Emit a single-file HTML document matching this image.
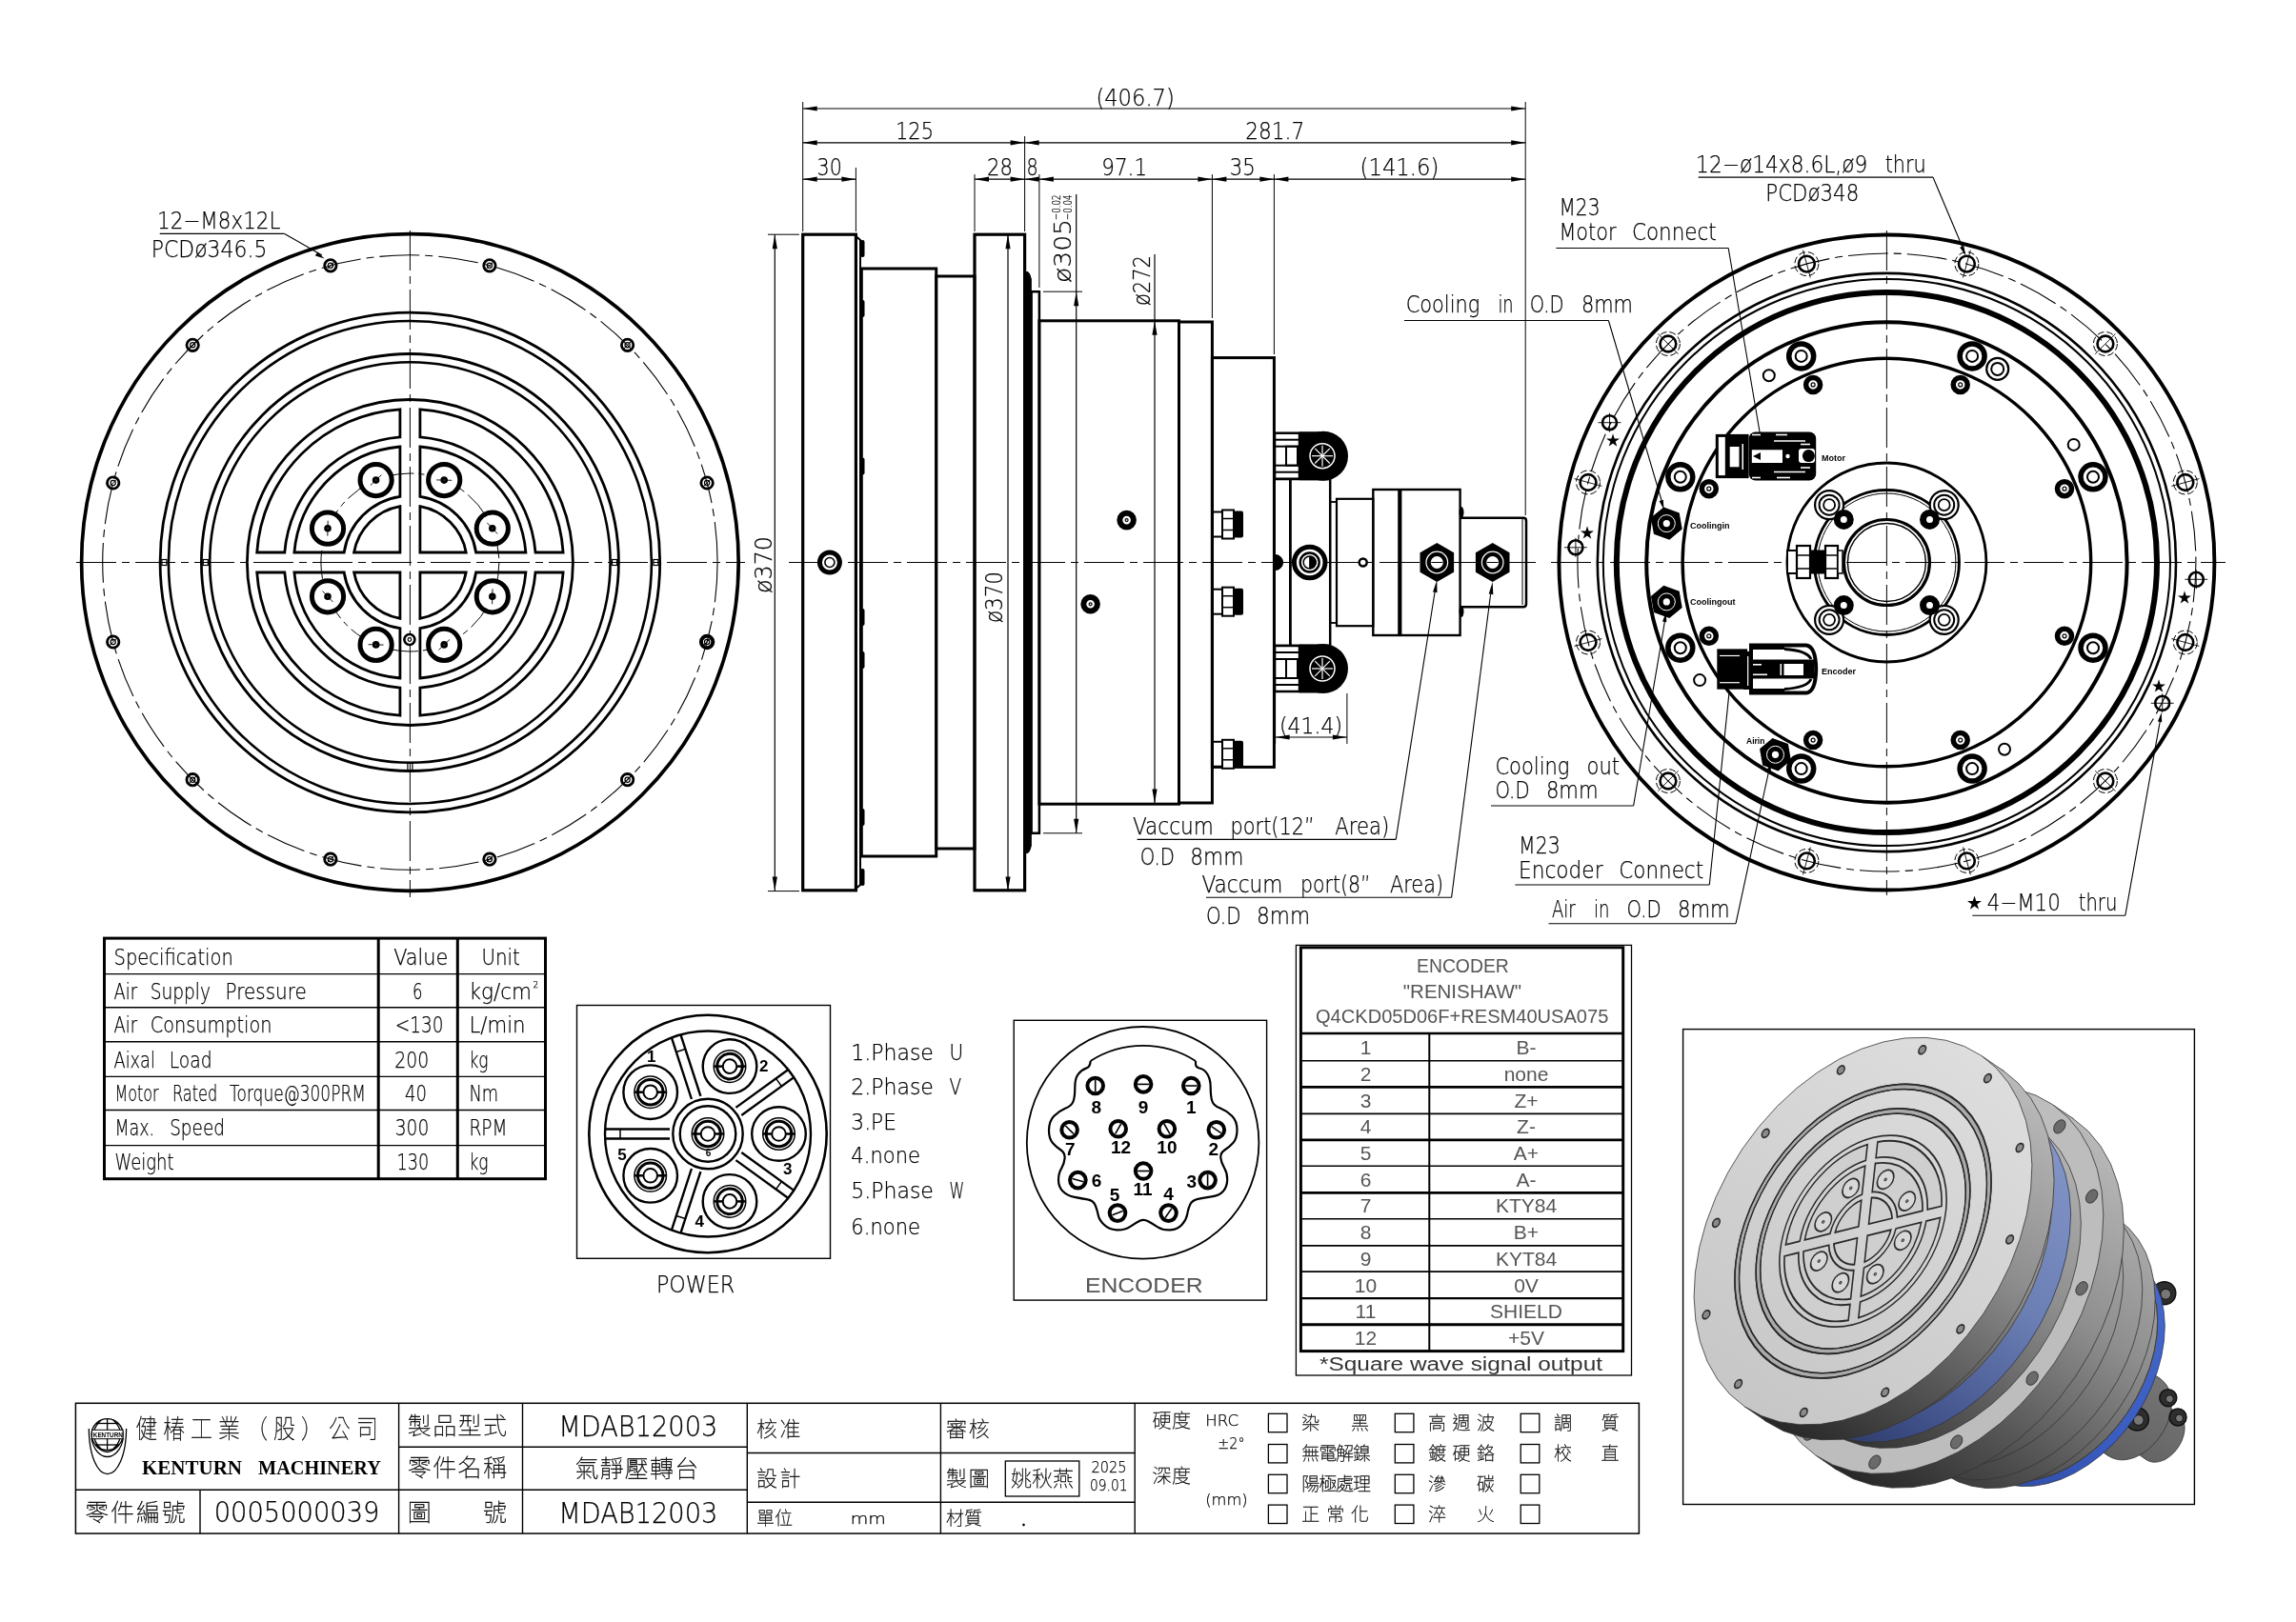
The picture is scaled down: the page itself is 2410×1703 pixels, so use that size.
<!DOCTYPE html>
<html lang="zh-Hant"><head><meta charset="utf-8"><title>MDAB12003</title>
<style>
html,body{margin:0;padding:0;background:#fff}
body{width:2410px;height:1703px;overflow:hidden}
svg{display:block;transform:translateZ(0);will-change:transform}
text{stroke:none;fill:#111}
.c{font-family:"DejaVu Sans","Liberation Sans",sans-serif;font-weight:200;fill:#000;stroke:#000;stroke-width:0.25px}
.k{font-family:"Liberation Sans","Noto Sans CJK TC","Noto Sans CJK SC",sans-serif;font-weight:100;fill:#000;stroke:#000;stroke-width:0.3px}
.b{font-family:"Liberation Sans",sans-serif;font-weight:700;fill:#000}
.s{font-family:"Liberation Serif",serif;font-weight:700;fill:#000}
.g{font-family:"Liberation Sans",sans-serif;fill:#555}
.f{fill:#000;stroke:none}
.w{fill:#fff;stroke:none}
</style></head><body>
<svg width="2410" height="1703" viewBox="0 0 2410 1703" fill="none" stroke="#000">
<rect class="w" x="0" y="0" width="2410" height="1703"/>
<g id="leftview">
<circle cx="430.4" cy="590.5" r="344.8" stroke-width="3.7"/>
<circle cx="430.4" cy="590.5" r="322.7" stroke-width="1.1" stroke-dasharray="42 6 8 6"/>
<circle cx="430.4" cy="590.5" r="262.3" stroke-width="2.8"/>
<circle cx="430.4" cy="590.5" r="253.5" stroke-width="2.6"/>
<circle cx="430.4" cy="590.5" r="219.0" stroke-width="2.8"/>
<circle cx="430.4" cy="590.5" r="210.2" stroke-width="2.6"/>
<circle cx="430.4" cy="590.5" r="171.0" stroke-width="2.8"/>
<line x1="80.0" y1="590.5" x2="782.0" y2="590.5" stroke-width="1" stroke-dasharray="42 6 8 6"/>
<line x1="430.4" y1="242.0" x2="430.4" y2="942.0" stroke-width="1" stroke-dasharray="42 6 8 6"/>
<rect x="169.9" y="587.5" width="5.0" height="6.0" stroke-width="1.2"/>
<rect x="213.3" y="587.5" width="5.0" height="6.0" stroke-width="1.2"/>
<rect x="642.5" y="587.5" width="5.0" height="6.0" stroke-width="1.2"/>
<rect x="685.9" y="587.5" width="5.0" height="6.0" stroke-width="1.2"/>
<rect x="427.9" y="800.5" width="5.0" height="8.0" stroke-width="1.2"/>
<circle cx="513.9" cy="278.8" r="6.2" stroke-width="2.8"/>
<circle cx="513.9" cy="278.8" r="2.6" stroke-width="1.2"/>
<line x1="509.9" y1="282.8" x2="517.9" y2="274.8" stroke-width="1"/>
<circle cx="658.6" cy="362.3" r="6.2" stroke-width="2.8"/>
<circle cx="658.6" cy="362.3" r="2.6" stroke-width="1.2"/>
<line x1="654.6" y1="366.3" x2="662.6" y2="358.3" stroke-width="1"/>
<circle cx="742.1" cy="507.0" r="6.2" stroke-width="2.8"/>
<circle cx="742.1" cy="507.0" r="2.6" stroke-width="1.2"/>
<line x1="738.1" y1="511.0" x2="746.1" y2="503.0" stroke-width="1"/>
<circle cx="742.1" cy="674.0" r="6.2" stroke-width="4"/>
<circle cx="742.1" cy="674.0" r="2.6" stroke-width="1.2"/>
<line x1="738.1" y1="678.0" x2="746.1" y2="670.0" stroke-width="1"/>
<circle cx="658.6" cy="818.7" r="6.2" stroke-width="2.8"/>
<circle cx="658.6" cy="818.7" r="2.6" stroke-width="1.2"/>
<line x1="654.6" y1="822.7" x2="662.6" y2="814.7" stroke-width="1"/>
<circle cx="513.9" cy="902.2" r="6.2" stroke-width="2.8"/>
<circle cx="513.9" cy="902.2" r="2.6" stroke-width="1.2"/>
<line x1="509.9" y1="906.2" x2="517.9" y2="898.2" stroke-width="1"/>
<circle cx="346.9" cy="902.2" r="6.2" stroke-width="2.8"/>
<circle cx="346.9" cy="902.2" r="2.6" stroke-width="1.2"/>
<line x1="342.9" y1="906.2" x2="350.9" y2="898.2" stroke-width="1"/>
<circle cx="202.2" cy="818.7" r="6.2" stroke-width="2.8"/>
<circle cx="202.2" cy="818.7" r="2.6" stroke-width="1.2"/>
<line x1="198.2" y1="822.7" x2="206.2" y2="814.7" stroke-width="1"/>
<circle cx="118.7" cy="674.0" r="6.2" stroke-width="2.8"/>
<circle cx="118.7" cy="674.0" r="2.6" stroke-width="1.2"/>
<line x1="114.7" y1="678.0" x2="122.7" y2="670.0" stroke-width="1"/>
<circle cx="118.7" cy="507.0" r="6.2" stroke-width="2.8"/>
<circle cx="118.7" cy="507.0" r="2.6" stroke-width="1.2"/>
<line x1="114.7" y1="511.0" x2="122.7" y2="503.0" stroke-width="1"/>
<circle cx="202.2" cy="362.3" r="6.2" stroke-width="2.8"/>
<circle cx="202.2" cy="362.3" r="2.6" stroke-width="1.2"/>
<line x1="198.2" y1="366.3" x2="206.2" y2="358.3" stroke-width="1"/>
<circle cx="346.9" cy="278.8" r="6.2" stroke-width="2.8"/>
<circle cx="346.9" cy="278.8" r="2.6" stroke-width="1.2"/>
<line x1="342.9" y1="282.8" x2="350.9" y2="274.8" stroke-width="1"/>
<path d="M591.1,601.0 A161,161 0 0 1 440.9,751.2 L440.9,722.1 A132,132 0 0 0 562.0,601.0 Z" stroke-width="2.8"/>
<path d="M551.9,601.0 A122,122 0 0 1 440.9,712.0 L440.9,659.7 A70,70 0 0 0 499.6,601.0 Z" stroke-width="2.8"/>
<path d="M489.2,601.0 A59.7,59.7 0 0 1 440.9,649.3 L440.9,601.0 Z" stroke-width="2.8"/>
<path d="M591.1,580.0 A161,161 0 0 0 440.9,429.8 L440.9,458.9 A132,132 0 0 1 562.0,580.0 Z" stroke-width="2.8"/>
<path d="M551.9,580.0 A122,122 0 0 0 440.9,469.0 L440.9,521.3 A70,70 0 0 1 499.6,580.0 Z" stroke-width="2.8"/>
<path d="M489.2,580.0 A59.7,59.7 0 0 0 440.9,531.7 L440.9,580.0 Z" stroke-width="2.8"/>
<path d="M269.7,601.0 A161,161 0 0 0 419.9,751.2 L419.9,722.1 A132,132 0 0 1 298.8,601.0 Z" stroke-width="2.8"/>
<path d="M308.9,601.0 A122,122 0 0 0 419.9,712.0 L419.9,659.7 A70,70 0 0 1 361.2,601.0 Z" stroke-width="2.8"/>
<path d="M371.6,601.0 A59.7,59.7 0 0 0 419.9,649.3 L419.9,601.0 Z" stroke-width="2.8"/>
<path d="M269.7,580.0 A161,161 0 0 1 419.9,429.8 L419.9,458.9 A132,132 0 0 0 298.8,580.0 Z" stroke-width="2.8"/>
<path d="M308.9,580.0 A122,122 0 0 1 419.9,469.0 L419.9,521.3 A70,70 0 0 0 361.2,580.0 Z" stroke-width="2.8"/>
<path d="M371.6,580.0 A59.7,59.7 0 0 1 419.9,531.7 L419.9,580.0 Z" stroke-width="2.8"/>
<circle cx="430.4" cy="590.5" r="93.5" stroke-width="1" stroke-dasharray="30 5 6 5"/>
<circle cx="516.8" cy="626.3" r="16.6" stroke-width="5" fill="#fff"/>
<circle cx="516.8" cy="626.3" r="2.2" stroke-width="3.2"/>
<line x1="517.0" y1="618.3" x2="516.6" y2="634.3" stroke-width="0.9"/>
<circle cx="466.2" cy="676.9" r="16.6" stroke-width="5" fill="#fff"/>
<circle cx="466.2" cy="676.9" r="2.2" stroke-width="3.2"/>
<line x1="472.0" y1="671.4" x2="460.4" y2="682.4" stroke-width="0.9"/>
<circle cx="394.6" cy="676.9" r="16.6" stroke-width="5" fill="#fff"/>
<circle cx="394.6" cy="676.9" r="2.2" stroke-width="3.2"/>
<line x1="402.6" y1="677.1" x2="386.6" y2="676.7" stroke-width="0.9"/>
<circle cx="344.0" cy="626.3" r="16.6" stroke-width="5" fill="#fff"/>
<circle cx="344.0" cy="626.3" r="2.2" stroke-width="3.2"/>
<line x1="349.5" y1="632.1" x2="338.5" y2="620.5" stroke-width="0.9"/>
<circle cx="344.0" cy="554.7" r="16.6" stroke-width="5" fill="#fff"/>
<circle cx="344.0" cy="554.7" r="2.2" stroke-width="3.2"/>
<line x1="343.8" y1="562.7" x2="344.2" y2="546.7" stroke-width="0.9"/>
<circle cx="394.6" cy="504.1" r="16.6" stroke-width="5" fill="#fff"/>
<circle cx="394.6" cy="504.1" r="2.2" stroke-width="3.2"/>
<line x1="388.8" y1="509.6" x2="400.4" y2="498.6" stroke-width="0.9"/>
<circle cx="466.2" cy="504.1" r="16.6" stroke-width="5" fill="#fff"/>
<circle cx="466.2" cy="504.1" r="2.2" stroke-width="3.2"/>
<line x1="458.2" y1="503.9" x2="474.2" y2="504.3" stroke-width="0.9"/>
<circle cx="516.8" cy="554.7" r="16.6" stroke-width="5" fill="#fff"/>
<circle cx="516.8" cy="554.7" r="2.2" stroke-width="3.2"/>
<line x1="511.3" y1="548.9" x2="522.3" y2="560.5" stroke-width="0.9"/>
<circle cx="429.9" cy="671.5" r="5.5" stroke-width="2.6" fill="#fff"/>
<circle cx="429.9" cy="671.5" r="1.8" stroke-width="1.2"/>
<text class="c" x="165.0" y="240.0" font-size="24.0" textLength="129.5" lengthAdjust="spacingAndGlyphs">12−M8x12L</text>
<line x1="167.7" y1="245.4" x2="298.7" y2="245.4" stroke-width="1.1"/>
<line x1="298.7" y1="245.4" x2="338.0" y2="268.0" stroke-width="1.1"/>
<polygon points="340.7,271.6 330.9,268.5 333.1,264.7" fill="#000" stroke="none"/>
<text class="c" x="158.8" y="269.5" font-size="24.0" textLength="121.6" lengthAdjust="spacingAndGlyphs">PCDø346.5</text>
</g>
<g id="sideview">
<line x1="828.0" y1="590.5" x2="1612.0" y2="590.5" stroke-width="1" stroke-dasharray="42 6 8 6"/>
<rect x="842.7" y="246.2" width="55.7" height="688.6" stroke-width="3.2"/>
<path d="M898.4,248 L903,252 L903,929.0 L898.4,933.0" stroke-width="2"/>
<rect x="904.3" y="282.0" width="78.4" height="617.0" stroke-width="3"/>
<rect x="982.7" y="290.0" width="40.3" height="601.0" stroke-width="3"/>
<rect x="1023.0" y="246.2" width="52.6" height="688.6" stroke-width="3.2"/>
<path d="M1076.5,286 Q1080,283 1082.3,293 L1082.3,888.0 Q1080,898.0 1076.5,895.0 Z" stroke-width="1" fill="#000"/>
<rect x="1082.6" y="306.2" width="8.3" height="568.6" stroke-width="2.5"/>
<rect x="1090.9" y="336.8" width="146.6" height="507.4" stroke-width="3"/>
<rect x="1237.5" y="338.0" width="34.9" height="505.0" stroke-width="3"/>
<rect x="1272.4" y="375.6" width="65.0" height="429.8" stroke-width="3"/>
<rect x="1337.4" y="503.0" width="16.9" height="175.0" stroke-width="2.5"/>
<rect x="1354.3" y="503.0" width="41.9" height="175.0" stroke-width="2.5"/>
<rect x="1396.2" y="527.0" width="6.8" height="127.0" stroke-width="1.8"/>
<rect x="1403.0" y="523.8" width="38.3" height="133.4" stroke-width="2.2"/>
<rect x="1441.3" y="514.0" width="91.3" height="153.0" stroke-width="2.4"/>
<line x1="1469.3" y1="514.0" x2="1469.3" y2="667.0" stroke-width="4.2"/>
<path d="M1532.6,543.8 L1599,543.8 Q1602,543.8 1602,547 L1602,634.0 Q1602,637.2 1599,637.2 L1532.6,637.2" stroke-width="2.5"/>
<line x1="1598.0" y1="545.0" x2="1598.0" y2="635.0" stroke-width="1"/>
<ellipse class="f" cx="1534" cy="538" rx="2.5" ry="6"/>
<ellipse class="f" cx="1534" cy="642" rx="2.5" ry="6"/>
<rect class="f" x="903" y="252" width="4.5" height="18" rx="2"/>
<rect class="f" x="903" y="315" width="4.5" height="18" rx="2"/>
<rect class="f" x="903" y="480.5" width="4.5" height="18" rx="2"/>
<rect class="f" x="903" y="639" width="4.5" height="18" rx="2"/>
<rect class="f" x="903" y="684" width="4.5" height="18" rx="2"/>
<rect class="f" x="903" y="849" width="4.5" height="18" rx="2"/>
<rect class="f" x="903" y="912" width="4.5" height="18" rx="2"/>
<circle cx="870.9" cy="590.5" r="10.5" stroke-width="5" fill="#fff"/>
<circle cx="870.9" cy="590.5" r="5.0" stroke-width="1.6"/>
<circle cx="1182.6" cy="546.1" r="7.3" stroke-width="6" fill="#fff"/>
<circle cx="1182.6" cy="546.1" r="1.5" stroke-width="1.2"/>
<circle cx="1144.6" cy="634.3" r="7.3" stroke-width="6" fill="#fff"/>
<circle cx="1144.6" cy="634.3" r="1.5" stroke-width="1.2"/>
<rect x="1273.0" y="537.5" width="10.0" height="26.0" stroke-width="2"/>
<rect x="1283.0" y="535.5" width="12.0" height="30.0" stroke-width="2" fill="#fff"/>
<line x1="1283.0" y1="544.5" x2="1295.0" y2="544.5" stroke-width="1.5"/>
<line x1="1283.0" y1="556.5" x2="1295.0" y2="556.5" stroke-width="1.5"/>
<rect class="f" x="1295" y="536.5" width="10" height="28" rx="2"/>
<rect x="1273.0" y="618.7" width="10.0" height="26.0" stroke-width="2"/>
<rect x="1283.0" y="616.7" width="12.0" height="30.0" stroke-width="2" fill="#fff"/>
<line x1="1283.0" y1="625.7" x2="1295.0" y2="625.7" stroke-width="1.5"/>
<line x1="1283.0" y1="637.7" x2="1295.0" y2="637.7" stroke-width="1.5"/>
<rect class="f" x="1295" y="617.7" width="10" height="28" rx="2"/>
<rect x="1273.0" y="778.8" width="10.0" height="26.0" stroke-width="2"/>
<rect x="1283.0" y="776.8" width="12.0" height="30.0" stroke-width="2" fill="#fff"/>
<line x1="1283.0" y1="785.8" x2="1295.0" y2="785.8" stroke-width="1.5"/>
<line x1="1283.0" y1="797.8" x2="1295.0" y2="797.8" stroke-width="1.5"/>
<rect class="f" x="1295" y="777.8" width="10" height="28" rx="2"/>
<rect x="1338.0" y="454.7" width="26.0" height="48.0" stroke-width="2.5" fill="#fff"/>
<line x1="1338.0" y1="461.7" x2="1364.0" y2="461.7" stroke-width="2"/>
<line x1="1338.0" y1="468.7" x2="1364.0" y2="468.7" stroke-width="2"/>
<line x1="1338.0" y1="488.7" x2="1364.0" y2="488.7" stroke-width="2"/>
<line x1="1338.0" y1="495.7" x2="1364.0" y2="495.7" stroke-width="2"/>
<rect x="1350.0" y="468.7" width="12.0" height="20.0" stroke-width="2"/>
<circle class="f" cx="1389" cy="478.7" r="26"/>
<rect class="f" x="1364" y="453.2" width="25" height="51"/>
<circle cx="1388.0" cy="478.7" r="13.0" stroke-width="1.5" stroke="#fff"/>
<line x1="1377.0" y1="478.7" x2="1399.0" y2="478.7" stroke-width="1.2" stroke="#fff"/>
<line x1="1380.2" y1="470.9" x2="1395.8" y2="486.5" stroke-width="1.2" stroke="#fff"/>
<line x1="1388.0" y1="467.7" x2="1388.0" y2="489.7" stroke-width="1.2" stroke="#fff"/>
<line x1="1395.8" y1="470.9" x2="1380.2" y2="486.5" stroke-width="1.2" stroke="#fff"/>
<rect x="1338.0" y="678.0" width="26.0" height="48.0" stroke-width="2.5" fill="#fff"/>
<line x1="1338.0" y1="685.0" x2="1364.0" y2="685.0" stroke-width="2"/>
<line x1="1338.0" y1="692.0" x2="1364.0" y2="692.0" stroke-width="2"/>
<line x1="1338.0" y1="712.0" x2="1364.0" y2="712.0" stroke-width="2"/>
<line x1="1338.0" y1="719.0" x2="1364.0" y2="719.0" stroke-width="2"/>
<rect x="1350.0" y="692.0" width="12.0" height="20.0" stroke-width="2"/>
<circle class="f" cx="1389" cy="702" r="26"/>
<rect class="f" x="1364" y="676.5" width="25" height="51"/>
<circle cx="1388.0" cy="702.0" r="13.0" stroke-width="1.5" stroke="#fff"/>
<line x1="1377.0" y1="702.0" x2="1399.0" y2="702.0" stroke-width="1.2" stroke="#fff"/>
<line x1="1380.2" y1="694.2" x2="1395.8" y2="709.8" stroke-width="1.2" stroke="#fff"/>
<line x1="1388.0" y1="691.0" x2="1388.0" y2="713.0" stroke-width="1.2" stroke="#fff"/>
<line x1="1395.8" y1="694.2" x2="1380.2" y2="709.8" stroke-width="1.2" stroke="#fff"/>
<circle cx="1374.7" cy="590.5" r="16.3" stroke-width="5" fill="#fff"/>
<circle cx="1374.7" cy="590.5" r="10.0" stroke-width="2.4"/>
<circle cx="1374.7" cy="590.5" r="6.5" stroke-width="1.5"/>
<path d="M1374.7,584.0 A6.5,6.5 0 0 1 1374.7,597.0 Z" stroke-width="1" fill="#000"/>
<circle cx="1430.7" cy="590.5" r="4.0" stroke-width="2.5"/>
<path d="M1338.6,582.5 A8,8 0 0 1 1338.6,598.5 Z" stroke-width="1" fill="#000"/>
<polygon class="f" points="1508.3,611.0 1490.5,600.8 1490.5,580.2 1508.3,570.0 1526.1,580.2 1526.1,600.8"/>
<circle cx="1508.3" cy="590.5" r="11.3" stroke-width="1.2" stroke="#fff"/>
<circle class="w" cx="1508.3" cy="590.5" r="6.5"/>
<line x1="1502.3" y1="590.5" x2="1514.3" y2="590.5" stroke-width="1"/>
<polygon class="f" points="1566.7,611.0 1548.9,600.8 1548.9,580.2 1566.7,570.0 1584.5,580.2 1584.5,600.8"/>
<circle cx="1566.7" cy="590.5" r="11.3" stroke-width="1.2" stroke="#fff"/>
<circle class="w" cx="1566.7" cy="590.5" r="6.5"/>
<line x1="1560.7" y1="590.5" x2="1572.7" y2="590.5" stroke-width="1"/>
<line x1="1506.0" y1="622.0" x2="1465.2" y2="881.4" stroke-width="1.1"/>
<polygon points="1508.3,609.0 1508.5,622.2 1504.0,621.5" fill="#000" stroke="none"/>
<line x1="1564.6" y1="624.0" x2="1523.6" y2="942.2" stroke-width="1.1"/>
<polygon points="1566.7,611.0 1567.3,624.2 1562.7,623.6" fill="#000" stroke="none"/>
<line x1="842.7" y1="107.0" x2="842.7" y2="243.0" stroke-width="1"/>
<line x1="898.4" y1="176.0" x2="898.4" y2="243.0" stroke-width="1"/>
<line x1="1023.0" y1="183.0" x2="1023.0" y2="243.0" stroke-width="1"/>
<line x1="1075.6" y1="143.0" x2="1075.6" y2="243.0" stroke-width="1"/>
<line x1="1090.9" y1="183.0" x2="1090.9" y2="302.0" stroke-width="1"/>
<line x1="1272.4" y1="183.0" x2="1272.4" y2="334.0" stroke-width="1"/>
<line x1="1337.4" y1="183.0" x2="1337.4" y2="372.0" stroke-width="1"/>
<line x1="1601.2" y1="107.0" x2="1601.2" y2="541.0" stroke-width="1"/>
<line x1="842.7" y1="114.0" x2="1601.2" y2="114.0" stroke-width="1.2"/>
<polygon points="842.7,114.0 857.7,111.4 857.7,116.6" fill="#000" stroke="none"/>
<polygon points="1601.2,114.0 1586.2,116.6 1586.2,111.4" fill="#000" stroke="none"/>
<text class="c" x="1150.4" y="111.0" font-size="25.2" textLength="82.4" lengthAdjust="spacingAndGlyphs">(406.7)</text>
<line x1="842.7" y1="149.8" x2="1601.2" y2="149.8" stroke-width="1.2"/>
<polygon points="842.7,149.8 857.7,147.2 857.7,152.4" fill="#000" stroke="none"/>
<polygon points="1075.6,149.8 1060.6,152.4 1060.6,147.2" fill="#000" stroke="none"/>
<polygon points="1075.6,149.8 1090.6,147.2 1090.6,152.4" fill="#000" stroke="none"/>
<polygon points="1601.2,149.8 1586.2,152.4 1586.2,147.2" fill="#000" stroke="none"/>
<text class="c" x="940.0" y="145.5" font-size="25.2" textLength="40.0" lengthAdjust="spacingAndGlyphs">125</text>
<text class="c" x="1307.2" y="145.5" font-size="25.2" textLength="62.0" lengthAdjust="spacingAndGlyphs">281.7</text>
<line x1="842.7" y1="188.2" x2="898.4" y2="188.2" stroke-width="1.2"/>
<polygon points="842.7,188.2 857.7,185.6 857.7,190.8" fill="#000" stroke="none"/>
<polygon points="898.4,188.2 883.4,190.8 883.4,185.6" fill="#000" stroke="none"/>
<line x1="1023.0" y1="188.2" x2="1601.2" y2="188.2" stroke-width="1.2"/>
<polygon points="1023.0,188.2 1038.0,185.6 1038.0,190.8" fill="#000" stroke="none"/>
<polygon points="1075.6,188.2 1060.6,190.8 1060.6,185.6" fill="#000" stroke="none"/>
<polygon points="1075.6,188.2 1090.6,185.6 1090.6,190.8" fill="#000" stroke="none"/>
<polygon points="1090.9,188.2 1105.9,185.6 1105.9,190.8" fill="#000" stroke="none"/>
<polygon points="1272.4,188.2 1257.4,190.8 1257.4,185.6" fill="#000" stroke="none"/>
<polygon points="1272.4,188.2 1287.4,185.6 1287.4,190.8" fill="#000" stroke="none"/>
<polygon points="1337.4,188.2 1322.4,190.8 1322.4,185.6" fill="#000" stroke="none"/>
<polygon points="1337.4,188.2 1352.4,185.6 1352.4,190.8" fill="#000" stroke="none"/>
<polygon points="1601.2,188.2 1586.2,190.8 1586.2,185.6" fill="#000" stroke="none"/>
<text class="c" x="857.6" y="183.5" font-size="25.2" textLength="26.3" lengthAdjust="spacingAndGlyphs">30</text>
<text class="c" x="1036.0" y="183.5" font-size="25.2" textLength="27.0" lengthAdjust="spacingAndGlyphs">28</text>
<text class="c" x="1077.5" y="183.5" font-size="25.2" textLength="12.2" lengthAdjust="spacingAndGlyphs">8</text>
<text class="c" x="1156.3" y="183.5" font-size="25.2" textLength="47.8" lengthAdjust="spacingAndGlyphs">97.1</text>
<text class="c" x="1290.8" y="183.5" font-size="25.2" textLength="27.0" lengthAdjust="spacingAndGlyphs">35</text>
<text class="c" x="1427.6" y="183.5" font-size="25.2" textLength="82.7" lengthAdjust="spacingAndGlyphs">(141.6)</text>
<line x1="806.0" y1="246.2" x2="839.0" y2="246.2" stroke-width="1"/>
<line x1="806.0" y1="935.6" x2="839.0" y2="935.6" stroke-width="1"/>
<line x1="813.3" y1="246.2" x2="813.3" y2="935.6" stroke-width="1.2"/>
<polygon points="813.3,246.2 815.9,261.2 810.7,261.2" fill="#000" stroke="none"/>
<polygon points="813.3,935.6 810.7,920.6 815.9,920.6" fill="#000" stroke="none"/>
<text class="c" transform="translate(809.5,623.0) rotate(-90)" x="0" y="0" font-size="24.7" textLength="60.0" lengthAdjust="spacingAndGlyphs">ø370</text>
<line x1="1058.0" y1="246.2" x2="1058.0" y2="935.6" stroke-width="1.2"/>
<polygon points="1058.0,246.2 1060.6,261.2 1055.4,261.2" fill="#000" stroke="none"/>
<polygon points="1058.0,935.6 1055.4,920.6 1060.6,920.6" fill="#000" stroke="none"/>
<text class="c" transform="translate(1052.0,654.0) rotate(-90)" x="0" y="0" font-size="24.7" textLength="54.0" lengthAdjust="spacingAndGlyphs">ø370</text>
<line x1="1095.0" y1="306.2" x2="1136.0" y2="306.2" stroke-width="1"/>
<line x1="1095.0" y1="874.8" x2="1136.0" y2="874.8" stroke-width="1"/>
<line x1="1129.7" y1="204.0" x2="1129.7" y2="874.8" stroke-width="1.2"/>
<polygon points="1129.7,306.2 1132.3,321.2 1127.1,321.2" fill="#000" stroke="none"/>
<polygon points="1129.7,874.8 1127.1,859.8 1132.3,859.8" fill="#000" stroke="none"/>
<text class="c" transform="translate(1124.0,297.0) rotate(-90)" x="0" y="0" font-size="24.7" textLength="67.0" lengthAdjust="spacingAndGlyphs">ø305</text>
<text class="c" transform="translate(1112.5,231.0) rotate(-90)" x="0" y="0" font-size="13.0" textLength="26.5" lengthAdjust="spacingAndGlyphs">−0.02</text>
<text class="c" transform="translate(1125.0,231.0) rotate(-90)" x="0" y="0" font-size="13.0" textLength="26.5" lengthAdjust="spacingAndGlyphs">−0.04</text>
<line x1="1212.0" y1="267.0" x2="1212.0" y2="844.0" stroke-width="1.2"/>
<polygon points="1212.0,336.8 1214.6,351.8 1209.4,351.8" fill="#000" stroke="none"/>
<polygon points="1212.0,843.4 1209.4,828.4 1214.6,828.4" fill="#000" stroke="none"/>
<text class="c" transform="translate(1207.0,321.0) rotate(-90)" x="0" y="0" font-size="24.7" textLength="53.0" lengthAdjust="spacingAndGlyphs">ø272</text>
<line x1="1338.6" y1="680.0" x2="1338.6" y2="781.0" stroke-width="1"/>
<line x1="1413.9" y1="728.0" x2="1413.9" y2="781.0" stroke-width="1"/>
<line x1="1338.6" y1="774.0" x2="1413.9" y2="774.0" stroke-width="1.2"/>
<polygon points="1338.6,774.0 1353.6,771.4 1353.6,776.6" fill="#000" stroke="none"/>
<polygon points="1413.9,774.0 1398.9,776.6 1398.9,771.4" fill="#000" stroke="none"/>
<text class="c" x="1343.0" y="770.0" font-size="23.3" textLength="66.0" lengthAdjust="spacingAndGlyphs">(41.4)</text>
<text class="c" x="1188.9" y="875.5" font-size="24.0" textLength="85.0" lengthAdjust="spacingAndGlyphs">Vaccum</text>
<text class="c" x="1291.6" y="875.5" font-size="24.0" textLength="88.2" lengthAdjust="spacingAndGlyphs">port(12”</text>
<text class="c" x="1401.3" y="875.5" font-size="24.0" textLength="56.9" lengthAdjust="spacingAndGlyphs">Area)</text>
<line x1="1193.6" y1="881.4" x2="1465.2" y2="881.4" stroke-width="1.1"/>
<text class="c" x="1196.7" y="908.0" font-size="24.0" textLength="36.1" lengthAdjust="spacingAndGlyphs">O.D</text>
<text class="c" x="1249.2" y="908.0" font-size="24.0" textLength="56.1" lengthAdjust="spacingAndGlyphs">8mm</text>
<text class="c" x="1261.4" y="937.0" font-size="24.0" textLength="85.0" lengthAdjust="spacingAndGlyphs">Vaccum</text>
<text class="c" x="1364.9" y="937.0" font-size="24.0" textLength="73.7" lengthAdjust="spacingAndGlyphs">port(8”</text>
<text class="c" x="1459.0" y="937.0" font-size="24.0" textLength="56.0" lengthAdjust="spacingAndGlyphs">Area)</text>
<line x1="1266.0" y1="942.2" x2="1523.6" y2="942.2" stroke-width="1.1"/>
<text class="c" x="1266.0" y="970.4" font-size="24.0" textLength="36.5" lengthAdjust="spacingAndGlyphs">O.D</text>
<text class="c" x="1319.0" y="970.4" font-size="24.0" textLength="56.0" lengthAdjust="spacingAndGlyphs">8mm</text>
</g>
<g id="rightview">
<circle cx="1980.4" cy="590.5" r="344.0" stroke-width="3.9"/>
<circle cx="1980.4" cy="590.5" r="324.5" stroke-width="1.1" stroke-dasharray="42 6 8 6"/>
<circle cx="1980.4" cy="590.5" r="303.6" stroke-width="2.6"/>
<circle cx="1980.4" cy="590.5" r="297.6" stroke-width="2"/>
<circle cx="1980.4" cy="590.5" r="283.6" stroke-width="6"/>
<circle cx="1980.4" cy="590.5" r="252.2" stroke-width="4"/>
<circle cx="1980.4" cy="590.5" r="214.3" stroke-width="3.4"/>
<circle cx="1980.4" cy="590.5" r="104.5" stroke-width="2.8"/>
<circle cx="1980.4" cy="590.5" r="76.0" stroke-width="3"/>
<circle cx="1980.4" cy="590.5" r="72.5" stroke-width="1"/>
<circle cx="1980.4" cy="590.5" r="45.0" stroke-width="3.2"/>
<circle cx="1980.4" cy="590.5" r="41.0" stroke-width="1.4"/>
<line x1="1628.0" y1="590.5" x2="2336.0" y2="590.5" stroke-width="1" stroke-dasharray="42 6 8 6"/>
<line x1="1980.4" y1="242.0" x2="1980.4" y2="940.0" stroke-width="1" stroke-dasharray="42 6 8 6"/>
<circle cx="2064.4" cy="277.1" r="8.4" stroke-width="2.6"/>
<circle cx="2064.4" cy="277.1" r="12.5" stroke-width="1" stroke-dasharray="7 3"/>
<line x1="2060.5" y1="291.5" x2="2068.3" y2="262.6" stroke-width="0.9"/>
<circle cx="2209.9" cy="361.0" r="8.4" stroke-width="2.6"/>
<circle cx="2209.9" cy="361.0" r="12.5" stroke-width="1" stroke-dasharray="7 3"/>
<line x1="2199.2" y1="371.7" x2="2220.5" y2="350.4" stroke-width="0.9"/>
<circle cx="2293.8" cy="506.5" r="8.4" stroke-width="2.6"/>
<circle cx="2293.8" cy="506.5" r="12.5" stroke-width="1" stroke-dasharray="7 3"/>
<line x1="2279.4" y1="510.4" x2="2308.3" y2="502.6" stroke-width="0.9"/>
<circle cx="2293.8" cy="674.5" r="8.4" stroke-width="2.6"/>
<circle cx="2293.8" cy="674.5" r="12.5" stroke-width="1" stroke-dasharray="7 3"/>
<line x1="2279.4" y1="670.6" x2="2308.3" y2="678.4" stroke-width="0.9"/>
<circle cx="2209.9" cy="820.0" r="8.4" stroke-width="2.6"/>
<circle cx="2209.9" cy="820.0" r="12.5" stroke-width="1" stroke-dasharray="7 3"/>
<line x1="2199.2" y1="809.3" x2="2220.5" y2="830.6" stroke-width="0.9"/>
<circle cx="2064.4" cy="903.9" r="8.4" stroke-width="2.6"/>
<circle cx="2064.4" cy="903.9" r="12.5" stroke-width="1" stroke-dasharray="7 3"/>
<line x1="2060.5" y1="889.5" x2="2068.3" y2="918.4" stroke-width="0.9"/>
<circle cx="1896.4" cy="903.9" r="8.4" stroke-width="2.6"/>
<circle cx="1896.4" cy="903.9" r="12.5" stroke-width="1" stroke-dasharray="7 3"/>
<line x1="1900.3" y1="889.5" x2="1892.5" y2="918.4" stroke-width="0.9"/>
<circle cx="1750.9" cy="820.0" r="8.4" stroke-width="2.6"/>
<circle cx="1750.9" cy="820.0" r="12.5" stroke-width="1" stroke-dasharray="7 3"/>
<line x1="1761.6" y1="809.3" x2="1740.3" y2="830.6" stroke-width="0.9"/>
<circle cx="1667.0" cy="674.5" r="8.4" stroke-width="2.6"/>
<circle cx="1667.0" cy="674.5" r="12.5" stroke-width="1" stroke-dasharray="7 3"/>
<line x1="1681.4" y1="670.6" x2="1652.5" y2="678.4" stroke-width="0.9"/>
<circle cx="1667.0" cy="506.5" r="8.4" stroke-width="2.6"/>
<circle cx="1667.0" cy="506.5" r="12.5" stroke-width="1" stroke-dasharray="7 3"/>
<line x1="1681.4" y1="510.4" x2="1652.5" y2="502.6" stroke-width="0.9"/>
<circle cx="1750.9" cy="361.0" r="8.4" stroke-width="2.6"/>
<circle cx="1750.9" cy="361.0" r="12.5" stroke-width="1" stroke-dasharray="7 3"/>
<line x1="1761.6" y1="371.7" x2="1740.3" y2="350.4" stroke-width="0.9"/>
<circle cx="1896.4" cy="277.1" r="8.4" stroke-width="2.6"/>
<circle cx="1896.4" cy="277.1" r="12.5" stroke-width="1" stroke-dasharray="7 3"/>
<line x1="1900.3" y1="291.5" x2="1892.5" y2="262.6" stroke-width="0.9"/>
<circle cx="1689.5" cy="443.7" r="7.5" stroke-width="2.6"/>
<line x1="1677.5" y1="443.7" x2="1701.5" y2="443.7" stroke-width="0.9"/>
<line x1="1689.5" y1="433.7" x2="1689.5" y2="453.7" stroke-width="0.9"/>
<text class="b" x="1693.2" y="467.1" font-size="14" text-anchor="middle">★</text>
<circle cx="1653.9" cy="574.8" r="7.5" stroke-width="2.6"/>
<line x1="1641.9" y1="574.8" x2="1665.9" y2="574.8" stroke-width="0.9"/>
<line x1="1653.9" y1="564.8" x2="1653.9" y2="584.8" stroke-width="0.9"/>
<text class="b" x="1665.9" y="563.5" font-size="14" text-anchor="middle">★</text>
<circle cx="2305.3" cy="608.3" r="7.5" stroke-width="2.6"/>
<line x1="2293.3" y1="608.3" x2="2317.3" y2="608.3" stroke-width="0.9"/>
<line x1="2305.3" y1="598.3" x2="2305.3" y2="618.3" stroke-width="0.9"/>
<text class="b" x="2293.3" y="631.7" font-size="14" text-anchor="middle">★</text>
<circle cx="2269.7" cy="738.3" r="7.5" stroke-width="2.6"/>
<line x1="2257.7" y1="738.3" x2="2281.7" y2="738.3" stroke-width="0.9"/>
<line x1="2269.7" y1="728.3" x2="2269.7" y2="748.3" stroke-width="0.9"/>
<text class="b" x="2265.5" y="725.0" font-size="14" text-anchor="middle">★</text>
<circle cx="2197.0" cy="680.2" r="13.0" stroke-width="5.5" fill="#fff"/>
<circle cx="2197.0" cy="680.2" r="6.0" stroke-width="2"/>
<circle cx="2070.1" cy="807.1" r="13.0" stroke-width="5.5" fill="#fff"/>
<circle cx="2070.1" cy="807.1" r="6.0" stroke-width="2"/>
<circle cx="1890.7" cy="807.1" r="13.0" stroke-width="5.5" fill="#fff"/>
<circle cx="1890.7" cy="807.1" r="6.0" stroke-width="2"/>
<circle cx="1763.8" cy="680.2" r="13.0" stroke-width="5.5" fill="#fff"/>
<circle cx="1763.8" cy="680.2" r="6.0" stroke-width="2"/>
<circle cx="1763.8" cy="500.8" r="13.0" stroke-width="5.5" fill="#fff"/>
<circle cx="1763.8" cy="500.8" r="6.0" stroke-width="2"/>
<circle cx="1890.7" cy="373.9" r="13.0" stroke-width="5.5" fill="#fff"/>
<circle cx="1890.7" cy="373.9" r="6.0" stroke-width="2"/>
<circle cx="2070.1" cy="373.9" r="13.0" stroke-width="5.5" fill="#fff"/>
<circle cx="2070.1" cy="373.9" r="6.0" stroke-width="2"/>
<circle cx="2197.0" cy="500.8" r="13.0" stroke-width="5.5" fill="#fff"/>
<circle cx="2197.0" cy="500.8" r="6.0" stroke-width="2"/>
<circle cx="2167.0" cy="667.8" r="7.5" stroke-width="5.5" fill="#fff"/>
<circle cx="2167.0" cy="667.8" r="2.0" stroke-width="1.2"/>
<circle cx="2057.7" cy="777.1" r="7.5" stroke-width="5.5" fill="#fff"/>
<circle cx="2057.7" cy="777.1" r="2.0" stroke-width="1.2"/>
<circle cx="1903.1" cy="777.1" r="7.5" stroke-width="5.5" fill="#fff"/>
<circle cx="1903.1" cy="777.1" r="2.0" stroke-width="1.2"/>
<circle cx="1793.8" cy="667.8" r="7.5" stroke-width="5.5" fill="#fff"/>
<circle cx="1793.8" cy="667.8" r="2.0" stroke-width="1.2"/>
<circle cx="1793.8" cy="513.2" r="7.5" stroke-width="5.5" fill="#fff"/>
<circle cx="1793.8" cy="513.2" r="2.0" stroke-width="1.2"/>
<circle cx="1903.1" cy="403.9" r="7.5" stroke-width="5.5" fill="#fff"/>
<circle cx="1903.1" cy="403.9" r="2.0" stroke-width="1.2"/>
<circle cx="2057.7" cy="403.9" r="7.5" stroke-width="5.5" fill="#fff"/>
<circle cx="2057.7" cy="403.9" r="2.0" stroke-width="1.2"/>
<circle cx="2167.0" cy="513.2" r="7.5" stroke-width="5.5" fill="#fff"/>
<circle cx="2167.0" cy="513.2" r="2.0" stroke-width="1.2"/>
<circle cx="1856.8" cy="394.2" r="6.0" stroke-width="2" fill="#fff"/>
<circle cx="2176.7" cy="466.9" r="6.0" stroke-width="2" fill="#fff"/>
<circle cx="2104.0" cy="786.8" r="6.0" stroke-width="2" fill="#fff"/>
<circle cx="1784.1" cy="714.1" r="6.0" stroke-width="2" fill="#fff"/>
<circle cx="2096.7" cy="387.4" r="11.5" stroke-width="2.2" fill="#fff"/>
<circle cx="2096.7" cy="387.4" r="6.5" stroke-width="2"/>
<polygon class="f" points="1765.7,555.6 1752.3,566.8 1735.9,560.8 1732.9,543.6 1746.3,532.4 1762.7,538.4"/>
<circle cx="1749.3" cy="549.6" r="9.0" stroke-width="1" stroke="#fff"/>
<circle class="w" cx="1749.3" cy="549.6" r="3.6"/>
<polygon class="f" points="1765.7,637.9 1752.3,649.1 1735.9,643.1 1732.9,625.9 1746.3,614.7 1762.7,620.7"/>
<circle cx="1749.3" cy="631.9" r="9.0" stroke-width="1" stroke="#fff"/>
<circle class="w" cx="1749.3" cy="631.9" r="3.6"/>
<polygon class="f" points="1879.9,798.3 1866.5,809.5 1850.1,803.5 1847.1,786.3 1860.5,775.1 1876.9,781.1"/>
<circle cx="1863.5" cy="792.3" r="9.0" stroke-width="1" stroke="#fff"/>
<circle class="w" cx="1863.5" cy="792.3" r="3.6"/>
<text class="b" x="1774.0" y="554.5" font-size="9.0">Coolingin</text>
<text class="b" x="1774.0" y="634.5" font-size="9.0">Coolingout</text>
<text class="b" x="1833.0" y="781.0" font-size="8.5">Airin</text>
<text class="b" x="1912.0" y="484.0" font-size="9.0">Motor</text>
<text class="b" x="1912.0" y="708.0" font-size="9.0">Encoder</text>
<circle cx="2040.7" cy="650.8" r="15.0" stroke-width="2.2" fill="#fff"/>
<circle cx="2040.7" cy="650.8" r="10.5" stroke-width="2"/>
<circle cx="2040.7" cy="650.8" r="6.0" stroke-width="1.8"/>
<circle cx="2025.5" cy="635.6" r="7.0" stroke-width="7" fill="#fff"/>
<circle cx="1920.1" cy="650.8" r="15.0" stroke-width="2.2" fill="#fff"/>
<circle cx="1920.1" cy="650.8" r="10.5" stroke-width="2"/>
<circle cx="1920.1" cy="650.8" r="6.0" stroke-width="1.8"/>
<circle cx="1935.3" cy="635.6" r="7.0" stroke-width="7" fill="#fff"/>
<circle cx="1920.1" cy="530.2" r="15.0" stroke-width="2.2" fill="#fff"/>
<circle cx="1920.1" cy="530.2" r="10.5" stroke-width="2"/>
<circle cx="1920.1" cy="530.2" r="6.0" stroke-width="1.8"/>
<circle cx="1935.3" cy="545.4" r="7.0" stroke-width="7" fill="#fff"/>
<circle cx="2040.7" cy="530.2" r="15.0" stroke-width="2.2" fill="#fff"/>
<circle cx="2040.7" cy="530.2" r="10.5" stroke-width="2"/>
<circle cx="2040.7" cy="530.2" r="6.0" stroke-width="1.8"/>
<circle cx="2025.5" cy="545.4" r="7.0" stroke-width="7" fill="#fff"/>
<rect x="1876.0" y="578.0" width="10.0" height="24.0" stroke-width="2" fill="#fff"/>
<rect x="1886.0" y="573.0" width="14.0" height="34.0" stroke-width="2.2" fill="#fff"/>
<line x1="1886.0" y1="583.0" x2="1900.0" y2="583.0" stroke-width="1.5"/>
<line x1="1886.0" y1="597.0" x2="1900.0" y2="597.0" stroke-width="1.5"/>
<rect x="1900.0" y="578.0" width="16.0" height="24.0" stroke-width="1" fill="#000"/>
<rect x="1916.0" y="573.0" width="13.0" height="34.0" stroke-width="2.2" fill="#fff"/>
<line x1="1916.0" y1="583.0" x2="1929.0" y2="583.0" stroke-width="1.5"/>
<line x1="1916.0" y1="597.0" x2="1929.0" y2="597.0" stroke-width="1.5"/>
<rect x="1929.0" y="578.0" width="5.0" height="24.0" stroke-width="1.5" fill="#fff"/>
<rect x="1802.3" y="457.4" width="31.8" height="43.2" stroke-width="3" fill="#fff"/>
<rect class="f" x="1810.8" y="458" width="23.3" height="42"/>
<rect class="w" x="1815.7" y="469" width="9.8" height="21.3"/>
<rect class="w" x="1828.5" y="466" width="1.5" height="27"/>
<rect class="f" x="1835.7" y="453.5" width="70.5" height="51" rx="7"/>
<rect class="w" x="1838.8" y="472.3" width="32.2" height="13.7"/>
<polygon class="f" points="1840,479 1848,475 1848,483"/>
<rect class="w" x="1888" y="471" width="17" height="15" rx="3"/>
<circle class="f" cx="1898.4" cy="478.6" r="6.5"/>
<circle class="w" cx="1876.5" cy="479" r="2.2"/>
<line x1="1839" y1="456.5" x2="1848" y2="456.5" stroke="#fff" stroke-width="1.6"/>
<line x1="1864" y1="456.5" x2="1876" y2="456.5" stroke="#fff" stroke-width="1.6"/>
<line x1="1862" y1="463" x2="1895" y2="463" stroke="#fff" stroke-width="1.6"/>
<line x1="1839" y1="501.5" x2="1848" y2="501.5" stroke="#fff" stroke-width="1.6"/>
<line x1="1865" y1="501.5" x2="1879" y2="501.5" stroke="#fff" stroke-width="1.6"/>
<line x1="1862" y1="495.5" x2="1895" y2="495.5" stroke="#fff" stroke-width="1.6"/>
<line x1="1890" y1="466.5" x2="1900" y2="466.5" stroke="#fff" stroke-width="1.6"/>
<line x1="1890" y1="491" x2="1900" y2="491" stroke="#fff" stroke-width="1.6"/>
<rect class="f" x="1802.3" y="681.4" width="31.8" height="42.3"/>
<line x1="1805" y1="688.5" x2="1826" y2="688.5" stroke="#fff" stroke-width="1.2"/>
<line x1="1805" y1="716.7" x2="1826" y2="716.7" stroke="#fff" stroke-width="1.2"/>
<rect class="f" x="1830" y="684" width="8" height="40"/>
<line x1="1834.7" y1="689" x2="1834.7" y2="720" stroke="#fff" stroke-width="1.2"/>
<path d="M1838,677.5 L1896,677.5 Q1906,679 1906.2,702.5 Q1906,726 1896,727.6 L1838,727.6 Z" stroke-width="4" fill="#fff"/>
<rect class="f" x="1838" y="676" width="35" height="6"/>
<rect class="f" x="1838" y="723" width="35" height="6"/>
<rect class="f" x="1838" y="692.5" width="66" height="20"/>
<rect class="w" x="1872.5" y="697" width="20.5" height="12"/>
<rect class="w" x="1868.5" y="697" width="1.6" height="12"/>
<rect class="w" x="1840" y="697" width="9" height="1.6"/>
<rect class="w" x="1840" y="707.5" width="15" height="1.6"/>
<path d="M1873,681.5 Q1897,683 1901,692" stroke-width="3"/>
<path d="M1873,723.5 Q1897,722 1901,713" stroke-width="3"/>
</g>
<g id="rlabels">
<text class="c" x="1780.1" y="180.8" font-size="24.0" textLength="180.3" lengthAdjust="spacingAndGlyphs">12−ø14x8.6L,ø9</text>
<text class="c" x="1978.7" y="180.8" font-size="24.0" textLength="43.1" lengthAdjust="spacingAndGlyphs">thru</text>
<line x1="1782.7" y1="186.1" x2="2029.0" y2="186.1" stroke-width="1.1"/>
<line x1="2029.0" y1="186.1" x2="2061.0" y2="262.0" stroke-width="1.1"/>
<polygon points="2063.5,269.0 2057.2,259.7 2061.2,258.0" fill="#000" stroke="none"/>
<text class="c" x="1853.3" y="211.4" font-size="24.0" textLength="97.9" lengthAdjust="spacingAndGlyphs">PCDø348</text>
<text class="c" x="1636.4" y="226.3" font-size="24.0" textLength="43.1" lengthAdjust="spacingAndGlyphs">M23</text>
<text class="c" x="1636.4" y="251.9" font-size="24.0" textLength="60.1" lengthAdjust="spacingAndGlyphs">Motor</text>
<text class="c" x="1712.9" y="251.9" font-size="24.0" textLength="88.9" lengthAdjust="spacingAndGlyphs">Connect</text>
<line x1="1633.4" y1="260.5" x2="1814.2" y2="260.5" stroke-width="1.1"/>
<line x1="1814.2" y1="260.5" x2="1847.2" y2="454.5" stroke-width="1.1"/>
<text class="c" x="1475.7" y="328.2" font-size="24.0" textLength="77.6" lengthAdjust="spacingAndGlyphs">Cooling</text>
<text class="c" x="1572.4" y="328.2" font-size="24.0" textLength="16.2" lengthAdjust="spacingAndGlyphs">in</text>
<text class="c" x="1605.8" y="328.2" font-size="24.0" textLength="35.8" lengthAdjust="spacingAndGlyphs">O.D</text>
<text class="c" x="1659.9" y="328.2" font-size="24.0" textLength="54.1" lengthAdjust="spacingAndGlyphs">8mm</text>
<line x1="1474.0" y1="336.5" x2="1688.4" y2="336.5" stroke-width="1.1"/>
<line x1="1688.4" y1="336.5" x2="1744.5" y2="527.0" stroke-width="1.1"/>
<polygon points="1746.5,535.0 1741.6,526.0 1745.8,524.8" fill="#000" stroke="none"/>
<text class="c" x="1569.4" y="813.3" font-size="24.0" textLength="78.1" lengthAdjust="spacingAndGlyphs">Cooling</text>
<text class="c" x="1665.5" y="813.3" font-size="24.0" textLength="34.6" lengthAdjust="spacingAndGlyphs">out</text>
<text class="c" x="1569.4" y="838.0" font-size="24.0" textLength="36.2" lengthAdjust="spacingAndGlyphs">O.D</text>
<text class="c" x="1622.9" y="838.0" font-size="24.0" textLength="54.7" lengthAdjust="spacingAndGlyphs">8mm</text>
<line x1="1565.0" y1="846.0" x2="1714.6" y2="846.0" stroke-width="1.1"/>
<line x1="1714.6" y1="846.0" x2="1747.5" y2="652.0" stroke-width="1.1"/>
<polygon points="1748.8,643.0 1749.3,653.2 1745.0,652.5" fill="#000" stroke="none"/>
<text class="c" x="1594.0" y="895.9" font-size="24.0" textLength="43.7" lengthAdjust="spacingAndGlyphs">M23</text>
<text class="c" x="1594.0" y="921.8" font-size="24.0" textLength="88.6" lengthAdjust="spacingAndGlyphs">Encoder</text>
<text class="c" x="1699.3" y="921.8" font-size="24.0" textLength="88.8" lengthAdjust="spacingAndGlyphs">Connect</text>
<line x1="1590.4" y1="929.0" x2="1794.3" y2="929.0" stroke-width="1.1"/>
<line x1="1794.3" y1="929.0" x2="1815.0" y2="727.0" stroke-width="1.1"/>
<text class="c" x="1629.0" y="962.5" font-size="24.0" textLength="24.7" lengthAdjust="spacingAndGlyphs">Air</text>
<text class="c" x="1673.0" y="962.5" font-size="24.0" textLength="16.5" lengthAdjust="spacingAndGlyphs">in</text>
<text class="c" x="1707.5" y="962.5" font-size="24.0" textLength="36.2" lengthAdjust="spacingAndGlyphs">O.D</text>
<text class="c" x="1761.0" y="962.5" font-size="24.0" textLength="54.7" lengthAdjust="spacingAndGlyphs">8mm</text>
<line x1="1625.5" y1="969.7" x2="1822.0" y2="969.7" stroke-width="1.1"/>
<line x1="1822.0" y1="969.7" x2="1857.0" y2="808.0" stroke-width="1.1"/>
<polygon points="1858.7,800.0 1858.8,810.2 1854.5,809.3" fill="#000" stroke="none"/>
<text class="b" x="2072.5" y="952.5" font-size="15" text-anchor="middle">★</text>
<text class="c" x="2085.7" y="955.8" font-size="24.0" textLength="77.1" lengthAdjust="spacingAndGlyphs">4−M10</text>
<text class="c" x="2181.8" y="955.8" font-size="24.0" textLength="40.5" lengthAdjust="spacingAndGlyphs">thru</text>
<line x1="2070.3" y1="961.2" x2="2230.8" y2="961.2" stroke-width="1.1"/>
<line x1="2230.8" y1="961.2" x2="2267.5" y2="756.0" stroke-width="1.1"/>
<polygon points="2268.8,748.0 2269.2,758.2 2264.9,757.5" fill="#000" stroke="none"/>
</g>
<g id="spec">
<rect x="109.5" y="985.1" width="463.0" height="252.6" stroke-width="3"/>
<line x1="397.2" y1="985.1" x2="397.2" y2="1237.7" stroke-width="3"/>
<line x1="480.3" y1="985.1" x2="480.3" y2="1237.7" stroke-width="3"/>
<line x1="109.5" y1="1022.6" x2="572.5" y2="1022.6" stroke-width="1.4"/>
<line x1="109.5" y1="1057.7" x2="572.5" y2="1057.7" stroke-width="1.4"/>
<line x1="109.5" y1="1093.7" x2="572.5" y2="1093.7" stroke-width="1.4"/>
<line x1="109.5" y1="1130.4" x2="572.5" y2="1130.4" stroke-width="1.4"/>
<line x1="109.5" y1="1165.5" x2="572.5" y2="1165.5" stroke-width="1.4"/>
<line x1="109.5" y1="1202.6" x2="572.5" y2="1202.6" stroke-width="1.4"/>
<text class="c" x="119.5" y="1013.3" font-size="22.9" textLength="125.3" lengthAdjust="spacingAndGlyphs">Specification</text>
<text class="c" x="413.2" y="1013.3" font-size="22.9" textLength="57.1" lengthAdjust="spacingAndGlyphs">Value</text>
<text class="c" x="505.4" y="1013.3" font-size="22.9" textLength="40.4" lengthAdjust="spacingAndGlyphs">Unit</text>
<text class="c" x="119.5" y="1048.9" font-size="22.9" textLength="24.5" lengthAdjust="spacingAndGlyphs">Air</text>
<text class="c" x="157.7" y="1048.9" font-size="22.9" textLength="63.3" lengthAdjust="spacingAndGlyphs">Supply</text>
<text class="c" x="236.6" y="1048.9" font-size="22.9" textLength="85.1" lengthAdjust="spacingAndGlyphs">Pressure</text>
<text class="c" x="433.0" y="1048.9" font-size="22.9" textLength="10.5" lengthAdjust="spacingAndGlyphs">6</text>
<text class="c" x="492.5" y="1048.9" font-size="22.9" textLength="65.5" lengthAdjust="spacingAndGlyphs">kg/cm</text>
<text class="c" x="119.5" y="1084.4" font-size="22.9" textLength="24.5" lengthAdjust="spacingAndGlyphs">Air</text>
<text class="c" x="157.7" y="1084.4" font-size="22.9" textLength="127.8" lengthAdjust="spacingAndGlyphs">Consumption</text>
<text class="c" x="414.7" y="1084.4" font-size="22.9" textLength="50.7" lengthAdjust="spacingAndGlyphs">&lt;130</text>
<text class="c" x="492.5" y="1084.4" font-size="22.9" textLength="59.1" lengthAdjust="spacingAndGlyphs">L/min</text>
<text class="c" x="119.5" y="1121.0" font-size="22.9" textLength="43.4" lengthAdjust="spacingAndGlyphs">Aixal</text>
<text class="c" x="177.7" y="1121.0" font-size="22.9" textLength="44.9" lengthAdjust="spacingAndGlyphs">Load</text>
<text class="c" x="414.3" y="1121.0" font-size="22.9" textLength="36.0" lengthAdjust="spacingAndGlyphs">200</text>
<text class="c" x="492.5" y="1121.0" font-size="22.9" textLength="20.0" lengthAdjust="spacingAndGlyphs">kg</text>
<text class="c" x="120.4" y="1156.1" font-size="22.9" textLength="46.2" lengthAdjust="spacingAndGlyphs">Motor</text>
<text class="c" x="181.0" y="1156.1" font-size="22.9" textLength="47.2" lengthAdjust="spacingAndGlyphs">Rated</text>
<text class="c" x="241.0" y="1156.1" font-size="22.9" textLength="142.9" lengthAdjust="spacingAndGlyphs">Torque@300PRM</text>
<text class="c" x="425.0" y="1156.1" font-size="22.9" textLength="23.0" lengthAdjust="spacingAndGlyphs">40</text>
<text class="c" x="492.5" y="1156.1" font-size="22.9" textLength="30.6" lengthAdjust="spacingAndGlyphs">Nm</text>
<text class="c" x="120.4" y="1192.1" font-size="22.9" textLength="41.8" lengthAdjust="spacingAndGlyphs">Max.</text>
<text class="c" x="178.2" y="1192.1" font-size="22.9" textLength="57.7" lengthAdjust="spacingAndGlyphs">Speed</text>
<text class="c" x="414.7" y="1192.1" font-size="22.9" textLength="35.6" lengthAdjust="spacingAndGlyphs">300</text>
<text class="c" x="492.5" y="1192.1" font-size="22.9" textLength="40.0" lengthAdjust="spacingAndGlyphs">RPM</text>
<text class="c" x="120.4" y="1228.3" font-size="22.9" textLength="62.2" lengthAdjust="spacingAndGlyphs">Weight</text>
<text class="c" x="416.5" y="1228.3" font-size="22.9" textLength="33.8" lengthAdjust="spacingAndGlyphs">130</text>
<text class="c" x="492.5" y="1228.3" font-size="22.9" textLength="20.0" lengthAdjust="spacingAndGlyphs">kg</text>
<text class="c" x="559.5" y="1037.0" font-size="8.9">2</text>
</g>
<g id="power">
<rect x="605.5" y="1055.5" width="266.0" height="265.8" stroke-width="1.4"/>
<circle cx="743.0" cy="1190.5" r="124.7" stroke-width="2.6"/>
<circle cx="743.0" cy="1190.5" r="108.0" stroke-width="2.4"/>
<line x1="778.3" y1="1210.0" x2="833.3" y2="1249.9" stroke-width="2.4"/>
<line x1="772.4" y1="1218.1" x2="827.4" y2="1258.0" stroke-width="2.4"/>
<line x1="820.4" y1="1240.5" x2="814.5" y2="1248.6" stroke-width="1.5"/>
<line x1="735.4" y1="1230.1" x2="714.4" y2="1294.8" stroke-width="2.4"/>
<line x1="725.9" y1="1227.0" x2="704.9" y2="1291.7" stroke-width="2.4"/>
<line x1="719.3" y1="1279.5" x2="709.8" y2="1276.5" stroke-width="1.5"/>
<line x1="703.0" y1="1195.5" x2="635.0" y2="1195.5" stroke-width="2.4"/>
<line x1="703.0" y1="1185.5" x2="635.0" y2="1185.5" stroke-width="2.4"/>
<line x1="651.0" y1="1195.5" x2="651.0" y2="1185.5" stroke-width="1.5"/>
<line x1="725.9" y1="1154.0" x2="704.9" y2="1089.3" stroke-width="2.4"/>
<line x1="735.4" y1="1150.9" x2="714.4" y2="1086.2" stroke-width="2.4"/>
<line x1="709.8" y1="1104.5" x2="719.3" y2="1101.5" stroke-width="1.5"/>
<line x1="772.4" y1="1162.9" x2="827.4" y2="1123.0" stroke-width="2.4"/>
<line x1="778.3" y1="1171.0" x2="833.3" y2="1131.1" stroke-width="2.4"/>
<line x1="814.5" y1="1132.4" x2="820.4" y2="1140.5" stroke-width="1.5"/>
<circle cx="743.0" cy="1190.5" r="36.7" stroke-width="2.4" fill="#fff"/>
<circle cx="743.0" cy="1190.5" r="29.3" stroke-width="2.4"/>
<circle cx="743.0" cy="1190.5" r="16.8" stroke-width="1.5"/>
<circle cx="743.0" cy="1190.5" r="13.3" stroke-width="3"/>
<circle cx="743.0" cy="1190.5" r="7.3" stroke-width="2"/>
<line x1="726.0" y1="1190.5" x2="736.0" y2="1190.5" stroke-width="2.5"/>
<line x1="750.0" y1="1190.5" x2="760.0" y2="1190.5" stroke-width="2.5"/>
<circle cx="817.5" cy="1190.5" r="28.3" stroke-width="2.4" fill="#fff"/>
<circle cx="817.5" cy="1190.5" r="16.8" stroke-width="1.5"/>
<circle cx="817.5" cy="1190.5" r="13.3" stroke-width="3"/>
<circle cx="817.5" cy="1190.5" r="7.3" stroke-width="2"/>
<line x1="800.5" y1="1190.5" x2="810.5" y2="1190.5" stroke-width="2.5"/>
<line x1="824.5" y1="1190.5" x2="834.5" y2="1190.5" stroke-width="2.5"/>
<circle cx="766.0" cy="1261.4" r="28.3" stroke-width="2.4" fill="#fff"/>
<circle cx="766.0" cy="1261.4" r="16.8" stroke-width="1.5"/>
<circle cx="766.0" cy="1261.4" r="13.3" stroke-width="3"/>
<circle cx="766.0" cy="1261.4" r="7.3" stroke-width="2"/>
<line x1="749.0" y1="1261.4" x2="759.0" y2="1261.4" stroke-width="2.5"/>
<line x1="773.0" y1="1261.4" x2="783.0" y2="1261.4" stroke-width="2.5"/>
<circle cx="682.7" cy="1234.3" r="28.3" stroke-width="2.4" fill="#fff"/>
<circle cx="682.7" cy="1234.3" r="16.8" stroke-width="1.5"/>
<circle cx="682.7" cy="1234.3" r="13.3" stroke-width="3"/>
<circle cx="682.7" cy="1234.3" r="7.3" stroke-width="2"/>
<line x1="665.7" y1="1234.3" x2="675.7" y2="1234.3" stroke-width="2.5"/>
<line x1="689.7" y1="1234.3" x2="699.7" y2="1234.3" stroke-width="2.5"/>
<circle cx="682.7" cy="1146.7" r="28.3" stroke-width="2.4" fill="#fff"/>
<circle cx="682.7" cy="1146.7" r="16.8" stroke-width="1.5"/>
<circle cx="682.7" cy="1146.7" r="13.3" stroke-width="3"/>
<circle cx="682.7" cy="1146.7" r="7.3" stroke-width="2"/>
<line x1="665.7" y1="1146.7" x2="675.7" y2="1146.7" stroke-width="2.5"/>
<line x1="689.7" y1="1146.7" x2="699.7" y2="1146.7" stroke-width="2.5"/>
<circle cx="766.0" cy="1119.6" r="28.3" stroke-width="2.4" fill="#fff"/>
<circle cx="766.0" cy="1119.6" r="16.8" stroke-width="1.5"/>
<circle cx="766.0" cy="1119.6" r="13.3" stroke-width="3"/>
<circle cx="766.0" cy="1119.6" r="7.3" stroke-width="2"/>
<line x1="749.0" y1="1119.6" x2="759.0" y2="1119.6" stroke-width="2.5"/>
<line x1="773.0" y1="1119.6" x2="783.0" y2="1119.6" stroke-width="2.5"/>
<text class="b" x="683.7" y="1115" font-size="17" text-anchor="middle">1</text>
<text class="b" x="801.7" y="1125" font-size="17" text-anchor="middle">2</text>
<text class="b" x="826.8" y="1233" font-size="17" text-anchor="middle">3</text>
<text class="b" x="734.2" y="1288" font-size="17" text-anchor="middle">4</text>
<text class="b" x="652.9" y="1218" font-size="17" text-anchor="middle">5</text>
<text class="b" x="743.6" y="1213.5" font-size="10" text-anchor="middle">6</text>
<text class="c" x="688.9" y="1356.5" font-size="24.4" textLength="82.4" lengthAdjust="spacingAndGlyphs">POWER</text>
<text class="c" x="893.3" y="1113.4" font-size="23.0" textLength="86.6" lengthAdjust="spacingAndGlyphs">1.Phase</text>
<text class="c" x="996.6" y="1113.4" font-size="23.0" textLength="14.7" lengthAdjust="spacingAndGlyphs">U</text>
<text class="c" x="893.3" y="1149.4" font-size="23.0" textLength="86.6" lengthAdjust="spacingAndGlyphs">2.Phase</text>
<text class="c" x="996.6" y="1149.4" font-size="23.0" textLength="12.6" lengthAdjust="spacingAndGlyphs">V</text>
<text class="c" x="893.3" y="1185.7" font-size="23.0" textLength="47.7" lengthAdjust="spacingAndGlyphs">3.PE</text>
<text class="c" x="893.3" y="1221.3" font-size="23.0" textLength="72.7" lengthAdjust="spacingAndGlyphs">4.none</text>
<text class="c" x="893.3" y="1258.0" font-size="23.0" textLength="86.6" lengthAdjust="spacingAndGlyphs">5.Phase</text>
<text class="c" x="996.6" y="1258.0" font-size="23.0" textLength="15.7" lengthAdjust="spacingAndGlyphs">W</text>
<text class="c" x="893.3" y="1295.7" font-size="23.0" textLength="72.7" lengthAdjust="spacingAndGlyphs">6.none</text>
</g>
<g id="enc">
<rect x="1064.2" y="1071.3" width="265.4" height="293.8" stroke-width="1.4"/>
<circle cx="1199.6" cy="1199.8" r="121.8" stroke-width="1.8"/>
<path d="M1144.6,1114.0 Q1144.6,1120.1 1140.0,1121.6 Q1135.4,1123.1 1131.9,1127.7 Q1128.3,1132.3 1128.3,1141.4 Q1128.3,1150.6 1126.8,1155.7 Q1125.2,1160.8 1118.1,1163.8 Q1111.0,1166.9 1106.1,1171.9 Q1101.3,1177.0 1101.0,1186.2 Q1100.8,1195.3 1104.9,1199.9 Q1109.0,1204.5 1113.6,1207.5 Q1118.1,1210.6 1117.6,1216.2 Q1117.1,1221.8 1114.1,1226.9 Q1111.0,1231.9 1111.0,1239.1 Q1111.0,1246.2 1115.6,1250.7 Q1120.2,1255.3 1127.8,1256.9 Q1135.4,1258.4 1141.5,1259.4 Q1147.6,1260.4 1149.7,1265.5 Q1151.7,1270.6 1152.7,1275.7 Q1153.7,1280.7 1158.8,1285.8 Q1163.9,1290.9 1172.0,1291.4 Q1180.2,1291.9 1186.3,1287.9 Q1192.4,1283.8 1196.4,1281.8 Q1200.5,1279.7 1205.1,1282.3 Q1209.7,1284.8 1215.2,1288.4 Q1220.8,1291.9 1228.5,1291.4 Q1236.1,1290.9 1240.7,1285.8 Q1245.2,1280.7 1246.3,1274.6 Q1247.3,1268.5 1249.3,1264.5 Q1251.3,1260.4 1257.4,1258.9 Q1263.5,1257.4 1271.7,1256.3 Q1279.8,1255.3 1283.9,1250.7 Q1287.9,1246.2 1288.2,1239.1 Q1288.4,1231.9 1285.1,1226.3 Q1281.8,1220.8 1281.3,1215.7 Q1280.8,1210.6 1285.4,1207.5 Q1290.0,1204.5 1294.3,1199.9 Q1298.5,1195.3 1298.5,1186.2 Q1298.5,1177.0 1293.2,1171.7 Q1287.9,1166.5 1280.8,1163.6 Q1273.7,1160.8 1272.2,1155.7 Q1270.7,1150.6 1270.7,1141.9 Q1270.7,1133.3 1267.6,1128.2 Q1264.6,1123.1 1259.8,1121.8 Q1255.0,1120.5 1255.0,1117.2 L1255.0,1114.0" stroke-width="2.2"/>
<path d="M1144.6,1114.0 A103,103 0 0 1 1255.0,1114.0" stroke-width="1.8"/>
<circle cx="1149.7" cy="1140.0" r="8.3" stroke-width="4" fill="#fff"/>
<line x1="1149.7" y1="1134.0" x2="1149.7" y2="1146.0" stroke-width="1.6"/>
<circle cx="1200.1" cy="1138.4" r="8.3" stroke-width="4" fill="#fff"/>
<line x1="1194.1" y1="1138.4" x2="1206.1" y2="1138.4" stroke-width="1.6"/>
<circle cx="1250.3" cy="1140.0" r="8.3" stroke-width="4" fill="#fff"/>
<line x1="1244.3" y1="1140.0" x2="1256.3" y2="1140.0" stroke-width="1.6"/>
<circle cx="1122.6" cy="1186.2" r="8.3" stroke-width="4" fill="#fff"/>
<line x1="1118.4" y1="1182.0" x2="1126.8" y2="1190.4" stroke-width="1.6"/>
<circle cx="1173.7" cy="1185.2" r="8.3" stroke-width="4" fill="#fff"/>
<line x1="1170.7" y1="1190.4" x2="1176.7" y2="1180.0" stroke-width="1.6"/>
<circle cx="1224.9" cy="1185.2" r="8.3" stroke-width="4" fill="#fff"/>
<line x1="1221.9" y1="1180.0" x2="1227.9" y2="1190.4" stroke-width="1.6"/>
<circle cx="1276.8" cy="1186.2" r="8.3" stroke-width="4" fill="#fff"/>
<line x1="1271.9" y1="1182.8" x2="1281.7" y2="1189.6" stroke-width="1.6"/>
<circle cx="1131.4" cy="1239.1" r="8.3" stroke-width="4" fill="#fff"/>
<line x1="1125.6" y1="1237.5" x2="1137.2" y2="1240.7" stroke-width="1.6"/>
<circle cx="1200.1" cy="1229.5" r="8.3" stroke-width="4" fill="#fff"/>
<line x1="1194.1" y1="1229.5" x2="1206.1" y2="1229.5" stroke-width="1.6"/>
<circle cx="1267.6" cy="1239.1" r="8.3" stroke-width="4" fill="#fff"/>
<line x1="1267.6" y1="1233.1" x2="1267.6" y2="1245.1" stroke-width="1.6"/>
<circle cx="1173.0" cy="1273.6" r="8.3" stroke-width="4" fill="#fff"/>
<line x1="1167.4" y1="1275.7" x2="1178.6" y2="1271.5" stroke-width="1.6"/>
<circle cx="1226.5" cy="1273.6" r="8.3" stroke-width="4" fill="#fff"/>
<line x1="1223.1" y1="1278.5" x2="1229.9" y2="1268.7" stroke-width="1.6"/>
<text class="b" x="1150.7" y="1168.5" font-size="19" text-anchor="middle">8</text>
<text class="b" x="1200.1" y="1168.5" font-size="19" text-anchor="middle">9</text>
<text class="b" x="1250.3" y="1168.5" font-size="19" text-anchor="middle">1</text>
<text class="b" x="1123.2" y="1213" font-size="19" text-anchor="middle">7</text>
<text class="b" x="1176.5" y="1211" font-size="19" text-anchor="middle">12</text>
<text class="b" x="1224.9" y="1211" font-size="19" text-anchor="middle">10</text>
<text class="b" x="1273.7" y="1213" font-size="19" text-anchor="middle">2</text>
<text class="b" x="1151" y="1245.5" font-size="19" text-anchor="middle">6</text>
<text class="b" x="1199.5" y="1254.7" font-size="19" text-anchor="middle">11</text>
<text class="b" x="1250.7" y="1246.5" font-size="19" text-anchor="middle">3</text>
<text class="b" x="1170" y="1260.8" font-size="19" text-anchor="middle">5</text>
<text class="b" x="1226.5" y="1259.8" font-size="19" text-anchor="middle">4</text>
<text class="g" x="1138.9" y="1357.0" font-size="22.9" textLength="123.6" lengthAdjust="spacingAndGlyphs">ENCODER</text>
</g>
<g id="enctab">
<rect x="1360.4" y="992.4" width="352.1" height="451.6" stroke-width="1.3"/>
<rect x="1365.4" y="994.8" width="338.3" height="423.8" stroke-width="3"/>
<line x1="1365.4" y1="1085.0" x2="1703.7" y2="1085.0" stroke-width="2.6"/>
<line x1="1365.4" y1="1113.8" x2="1703.7" y2="1113.8" stroke-width="1.6"/>
<line x1="1365.4" y1="1141.3" x2="1703.7" y2="1141.3" stroke-width="2.8"/>
<line x1="1365.4" y1="1169.4" x2="1703.7" y2="1169.4" stroke-width="1.6"/>
<line x1="1365.4" y1="1196.9" x2="1703.7" y2="1196.9" stroke-width="2.8"/>
<line x1="1365.4" y1="1224.2" x2="1703.7" y2="1224.2" stroke-width="1.6"/>
<line x1="1365.4" y1="1252.3" x2="1703.7" y2="1252.3" stroke-width="2.8"/>
<line x1="1365.4" y1="1279.8" x2="1703.7" y2="1279.8" stroke-width="1.6"/>
<line x1="1365.4" y1="1307.9" x2="1703.7" y2="1307.9" stroke-width="1.8"/>
<line x1="1365.4" y1="1335.1" x2="1703.7" y2="1335.1" stroke-width="1.8"/>
<line x1="1365.4" y1="1363.2" x2="1703.7" y2="1363.2" stroke-width="2.2"/>
<line x1="1365.4" y1="1390.8" x2="1703.7" y2="1390.8" stroke-width="3"/>
<line x1="1500.3" y1="1085.0" x2="1500.3" y2="1418.6" stroke-width="2"/>
<text class="g" x="1487" y="1021.4" font-size="20.5" textLength="96.8" lengthAdjust="spacingAndGlyphs">ENCODER</text>
<text class="g" x="1472.8" y="1048" font-size="20.5" textLength="124.3" lengthAdjust="spacingAndGlyphs">"RENISHAW"</text>
<text class="g" x="1381" y="1074.1" font-size="20.5" textLength="307.3" lengthAdjust="spacingAndGlyphs">Q4CKD05D06F+RESM40USA075</text>
<text class="g" x="1433.5" y="1107.3" font-size="21" text-anchor="middle">1</text>
<text class="g" x="1602" y="1107.3" font-size="21" text-anchor="middle">B-</text>
<text class="g" x="1433.5" y="1134.8" font-size="21" text-anchor="middle">2</text>
<text class="g" x="1602" y="1134.8" font-size="21" text-anchor="middle">none</text>
<text class="g" x="1433.5" y="1162.9" font-size="21" text-anchor="middle">3</text>
<text class="g" x="1602" y="1162.9" font-size="21" text-anchor="middle">Z+</text>
<text class="g" x="1433.5" y="1190.4" font-size="21" text-anchor="middle">4</text>
<text class="g" x="1602" y="1190.4" font-size="21" text-anchor="middle">Z-</text>
<text class="g" x="1433.5" y="1217.7" font-size="21" text-anchor="middle">5</text>
<text class="g" x="1602" y="1217.7" font-size="21" text-anchor="middle">A+</text>
<text class="g" x="1433.5" y="1245.8" font-size="21" text-anchor="middle">6</text>
<text class="g" x="1602" y="1245.8" font-size="21" text-anchor="middle">A-</text>
<text class="g" x="1433.5" y="1273.3" font-size="21" text-anchor="middle">7</text>
<text class="g" x="1602" y="1273.3" font-size="21" text-anchor="middle">KTY84</text>
<text class="g" x="1433.5" y="1301.4" font-size="21" text-anchor="middle">8</text>
<text class="g" x="1602" y="1301.4" font-size="21" text-anchor="middle">B+</text>
<text class="g" x="1433.5" y="1328.6" font-size="21" text-anchor="middle">9</text>
<text class="g" x="1602" y="1328.6" font-size="21" text-anchor="middle">KYT84</text>
<text class="g" x="1433.5" y="1356.7" font-size="21" text-anchor="middle">10</text>
<text class="g" x="1602" y="1356.7" font-size="21" text-anchor="middle">0V</text>
<text class="g" x="1433.5" y="1384.3" font-size="21" text-anchor="middle">11</text>
<text class="g" x="1602" y="1384.3" font-size="21" text-anchor="middle">SHIELD</text>
<text class="g" x="1433.5" y="1412.1" font-size="21" text-anchor="middle">12</text>
<text class="g" x="1602" y="1412.1" font-size="21" text-anchor="middle">+5V</text>
<text class="g" x="1385" y="1438.7" font-size="20" textLength="297" lengthAdjust="spacingAndGlyphs" style="fill:#333">*Square wave signal output</text>
</g>
<g id="title">
<rect x="79.4" y="1473.3" width="1641.0" height="136.8" stroke-width="1.5"/>
<line x1="210.0" y1="1564.3" x2="210.0" y2="1610.0" stroke-width="1.4"/>
<line x1="418.6" y1="1473.3" x2="418.6" y2="1610.0" stroke-width="1.4"/>
<line x1="548.5" y1="1473.3" x2="548.5" y2="1610.0" stroke-width="1.4"/>
<line x1="784.3" y1="1473.3" x2="784.3" y2="1610.0" stroke-width="1.4"/>
<line x1="987.4" y1="1473.3" x2="987.4" y2="1610.0" stroke-width="1.4"/>
<line x1="1191.2" y1="1473.3" x2="1191.2" y2="1610.0" stroke-width="1.4"/>
<line x1="79.4" y1="1564.3" x2="784.3" y2="1564.3" stroke-width="1.4"/>
<line x1="418.6" y1="1519.3" x2="784.3" y2="1519.3" stroke-width="1.4"/>
<line x1="784.3" y1="1525.5" x2="1191.2" y2="1525.5" stroke-width="1.4"/>
<line x1="784.3" y1="1577.2" x2="1191.2" y2="1577.2" stroke-width="1.4"/>
<g stroke-width="1.3">
<path d="M93.3,1500 C93.5,1528 102,1547.6 112.8,1547.6 C123.5,1547.6 132.4,1528 132.6,1500"/>
<path d="M96,1510 C98,1522 105,1529.5 112.7,1529.5 C120,1529.5 127.5,1522 129.3,1510"/>
<path d="M100,1517 Q106,1524 112.6,1524.5 Q119,1524 125,1517"/>
<circle cx="112.6" cy="1506.1" r="16.5"/>
<line x1="112.6" y1="1490" x2="112.6" y2="1522"/><line x1="101" y1="1494.5" x2="124" y2="1494.5"/><line x1="100" y1="1517" x2="125" y2="1517"/>
<path d="M106,1491 Q100,1497 99,1502"/><path d="M119,1491 Q125,1497 126,1502"/><path d="M99,1510 Q101,1517 106,1521"/><path d="M126,1510 Q124,1517 119,1521"/>
<rect x="96.5" y="1501.3" width="32.5" height="9.4" fill="#fff" stroke-width="1"/>
</g>
<text class="b" x="97.8" y="1509.2" font-size="8" textLength="31" lengthAdjust="spacingAndGlyphs">KENTURN</text>
<g transform="translate(142.2,0) scale(0.85,1)"><text class="k" x="0" y="1510.3" font-size="27" textLength="299.6" lengthAdjust="spacing">健椿工業（股）公司</text></g>
<text class="s" x="148.9" y="1548.3" font-size="21.5" textLength="105.1" lengthAdjust="spacingAndGlyphs">KENTURN</text>
<text class="s" x="271" y="1548.3" font-size="21.5" textLength="128.9" lengthAdjust="spacingAndGlyphs">MACHINERY</text>
<text class="k" x="89.3" y="1597.0" font-size="25" textLength="105.4" lengthAdjust="spacing">零件編號</text>
<text class="c" x="224.7" y="1598.3" font-size="30.2" textLength="173.8" lengthAdjust="spacingAndGlyphs">0005000039</text>
<text class="k" x="427.7" y="1505.6" font-size="25" textLength="104.3" lengthAdjust="spacing">製品型式</text>
<text class="k" x="427.7" y="1550.2" font-size="25" textLength="104.3" lengthAdjust="spacing">零件名稱</text>
<text class="k" x="427.7" y="1597.0" font-size="25">圖</text>
<text class="k" x="507.0" y="1597.0" font-size="25">號</text>
<text class="c" x="586.2" y="1507.6" font-size="30.2" textLength="167.2" lengthAdjust="spacingAndGlyphs">MDAB12003</text>
<text class="c" x="586.2" y="1599.0" font-size="30.2" textLength="167.2" lengthAdjust="spacingAndGlyphs">MDAB12003</text>
<text class="k" x="603.4" y="1551.3" font-size="25" textLength="129.9" lengthAdjust="spacing">氣靜壓轉台</text>
<text class="k" x="794.0" y="1507.9" font-size="22" textLength="46.6" lengthAdjust="spacing">核准</text>
<text class="k" x="794.0" y="1560.2" font-size="22" textLength="46.6" lengthAdjust="spacing">設計</text>
<text class="k" x="794.0" y="1600.8" font-size="19" textLength="38.0" lengthAdjust="spacing">單位</text>
<text class="c" x="892.8" y="1600.0" font-size="15.1" textLength="37.1" lengthAdjust="spacingAndGlyphs">mm</text>
<text class="k" x="993.0" y="1507.9" font-size="22" textLength="45.7" lengthAdjust="spacing">審核</text>
<text class="k" x="993.0" y="1560.2" font-size="22" textLength="45.7" lengthAdjust="spacing">製圖</text>
<text class="k" x="993.0" y="1600.8" font-size="19" textLength="38.0" lengthAdjust="spacing">材質</text>
<circle cx="1074.5" cy="1601.0" r="0.9" stroke-width="1" fill="#000"/>
<rect x="1055.3" y="1534.0" width="77.5" height="37.0" stroke-width="1.3"/>
<text class="k" x="1061.0" y="1560.4" font-size="22" textLength="66.0" lengthAdjust="spacing">姚秋燕</text>
<text class="c" x="1145.5" y="1545.8" font-size="15.8" textLength="37.0" lengthAdjust="spacingAndGlyphs">2025</text>
<text class="c" x="1144.0" y="1564.5" font-size="15.8" textLength="39.5" lengthAdjust="spacingAndGlyphs">09.01</text>
<text class="k" x="1209.5" y="1498.6" font-size="20" textLength="40.5" lengthAdjust="spacing">硬度</text>
<text class="k" x="1209.5" y="1557.4" font-size="20" textLength="40.5" lengthAdjust="spacing">深度</text>
<text class="c" x="1265.2" y="1497.0" font-size="15.8" textLength="34.8" lengthAdjust="spacingAndGlyphs">HRC</text>
<text class="c" x="1278.3" y="1521.0" font-size="15.8" textLength="28.3" lengthAdjust="spacingAndGlyphs">±2°</text>
<text class="c" x="1265.2" y="1579.8" font-size="15.8" textLength="44.5" lengthAdjust="spacingAndGlyphs">(mm)</text>
<rect x="1331.4" y="1484.3" width="19.6" height="19.4" stroke-width="1.3"/>
<rect x="1464.3" y="1484.3" width="19.6" height="19.4" stroke-width="1.3"/>
<rect x="1596.2" y="1484.3" width="19.6" height="19.4" stroke-width="1.3"/>
<text class="k" x="1366.3" y="1500.8" font-size="19" textLength="70.7" lengthAdjust="spacing">染　黑</text>
<text class="k" x="1499.1" y="1500.8" font-size="19" textLength="69.9" lengthAdjust="spacing">高週波</text>
<text class="k" x="1631.0" y="1500.8" font-size="19" textLength="68.5" lengthAdjust="spacing">調　質</text>
<rect x="1331.4" y="1516.5" width="19.6" height="19.4" stroke-width="1.3"/>
<rect x="1464.3" y="1516.5" width="19.6" height="19.4" stroke-width="1.3"/>
<rect x="1596.2" y="1516.5" width="19.6" height="19.4" stroke-width="1.3"/>
<text class="k" x="1366.3" y="1533.0" font-size="19" textLength="72.7" lengthAdjust="spacing">無電解鎳</text>
<text class="k" x="1499.1" y="1533.0" font-size="19" textLength="69.9" lengthAdjust="spacing">鍍硬鉻</text>
<text class="k" x="1631.0" y="1533.0" font-size="19" textLength="68.5" lengthAdjust="spacing">校　直</text>
<rect x="1331.4" y="1548.3" width="19.6" height="19.4" stroke-width="1.3"/>
<rect x="1464.3" y="1548.3" width="19.6" height="19.4" stroke-width="1.3"/>
<rect x="1596.2" y="1548.3" width="19.6" height="19.4" stroke-width="1.3"/>
<text class="k" x="1366.3" y="1564.8" font-size="19" textLength="72.7" lengthAdjust="spacing">陽極處理</text>
<text class="k" x="1499.1" y="1564.8" font-size="19" textLength="69.9" lengthAdjust="spacing">滲　碳</text>
<rect x="1331.4" y="1580.1" width="19.6" height="19.4" stroke-width="1.3"/>
<rect x="1464.3" y="1580.1" width="19.6" height="19.4" stroke-width="1.3"/>
<rect x="1596.2" y="1580.1" width="19.6" height="19.4" stroke-width="1.3"/>
<text class="k" x="1366.3" y="1596.6" font-size="19" textLength="70.7" lengthAdjust="spacing">正常化</text>
<text class="k" x="1499.1" y="1596.6" font-size="19" textLength="69.9" lengthAdjust="spacing">淬　火</text>
</g>
<g id="iso">
<rect x="1766.6" y="1080.6" width="536.8" height="498.9" stroke-width="1.4"/>
<defs>
<linearGradient id="gs" gradientUnits="userSpaceOnUse" x1="2090" y1="1100" x2="1830" y2="1490">
<stop offset="0" stop-color="#bdbdbd"/><stop offset="0.4" stop-color="#8e8e8e"/><stop offset="0.7" stop-color="#565656"/><stop offset="1" stop-color="#242424"/></linearGradient>
<linearGradient id="gb" gradientUnits="userSpaceOnUse" x1="2090" y1="1100" x2="1830" y2="1490">
<stop offset="0" stop-color="#8a9acb"/><stop offset="0.45" stop-color="#6b7fb5"/><stop offset="0.8" stop-color="#3d4e86"/><stop offset="1" stop-color="#252f55"/></linearGradient>
<linearGradient id="gb2" gradientUnits="userSpaceOnUse" x1="2090" y1="1100" x2="1830" y2="1490"><stop offset="0" stop-color="#4c6fd0"/><stop offset="0.6" stop-color="#3a5bbf"/><stop offset="1" stop-color="#27408f"/></linearGradient>
<linearGradient id="gd" gradientUnits="userSpaceOnUse" x1="2090" y1="1100" x2="1830" y2="1490"><stop offset="0" stop-color="#999"/><stop offset="0.5" stop-color="#6c6c6c"/><stop offset="1" stop-color="#3a3a3a"/></linearGradient>
<linearGradient id="gf" gradientUnits="userSpaceOnUse" x1="2090" y1="1100" x2="1830" y2="1490">
<stop offset="0" stop-color="#dedede"/><stop offset="1" stop-color="#c6c6c6"/></linearGradient>
</defs>
<path d="M2292.9,1502.4 L2292.3,1505.9 L2291.3,1509.4 L2290.0,1512.9 L2288.3,1516.3 L2286.3,1519.6 L2284.0,1522.7 L2281.4,1525.6 L2278.7,1528.1 L2275.8,1530.3 L2272.8,1532.2 L2269.7,1533.6 L2266.6,1534.6 L2263.6,1535.1 L2260.6,1535.2 L2257.9,1534.8 L2255.3,1533.9 L2252.9,1532.6 L2250.9,1530.9 L2249.1,1528.8 L2247.8,1526.4 L2246.7,1523.6 L2246.1,1520.6 L2245.9,1517.3 L2246.1,1513.9 L2246.6,1510.4 L2247.6,1506.9 L2248.9,1503.4 L2250.6,1500.0 L2252.6,1496.7 L2254.9,1493.6 L2257.5,1490.7 L2260.3,1488.2 L2263.2,1486.0 L2266.2,1484.1 L2269.3,1482.7 L2272.3,1481.7 L2275.4,1481.2 L2278.3,1481.1 L2281.1,1481.5 L2283.7,1482.4 L2286.0,1483.7 L2288.1,1485.4 L2289.8,1487.5 L2291.2,1489.9 L2292.2,1492.7 L2292.8,1495.7 L2293.1,1499.0 L2292.9,1502.4 Z" fill="url(#gd)" stroke="#333" stroke-width="0.8"/>
<path d="M2256.9,1463.7 L2286.0,1483.7 L2252.9,1532.6 L2223.8,1512.6 Z" fill="url(#gd)" stroke="none"/>
<line x1="2256.9" y1="1463.7" x2="2286.0" y2="1483.7" stroke-width="0.8" stroke="#333"/>
<line x1="2252.9" y1="1532.6" x2="2223.8" y2="1512.6" stroke-width="0.8" stroke="#333"/>
<path d="M2263.8,1482.4 L2263.2,1485.9 L2262.2,1489.4 L2260.9,1492.9 L2259.2,1496.4 L2257.2,1499.7 L2254.9,1502.8 L2252.3,1505.6 L2249.6,1508.2 L2246.7,1510.4 L2243.7,1512.2 L2240.6,1513.6 L2237.5,1514.6 L2234.5,1515.1 L2231.5,1515.2 L2228.8,1514.8 L2226.2,1514.0 L2223.8,1512.7 L2221.8,1511.0 L2220.0,1508.9 L2218.7,1506.4 L2217.6,1503.6 L2217.0,1500.6 L2216.8,1497.4 L2217.0,1494.0 L2217.5,1490.5 L2218.5,1486.9 L2219.8,1483.4 L2221.5,1480.0 L2223.5,1476.7 L2225.8,1473.6 L2228.4,1470.7 L2231.1,1468.2 L2234.1,1466.0 L2237.1,1464.1 L2240.2,1462.7 L2243.2,1461.7 L2246.3,1461.2 L2249.2,1461.1 L2252.0,1461.5 L2254.6,1462.4 L2256.9,1463.7 L2259.0,1465.4 L2260.7,1467.5 L2262.1,1469.9 L2263.1,1472.7 L2263.7,1475.7 L2264.0,1479.0 L2263.8,1482.4 Z" fill="#666" stroke="#333" stroke-width="0.8"/>
<path d="M2279.0,1478.6 L2278.1,1484.4 L2276.5,1490.2 L2274.3,1496.0 L2271.5,1501.7 L2268.1,1507.1 L2264.3,1512.2 L2260.1,1516.9 L2255.6,1521.2 L2250.8,1524.8 L2245.8,1527.8 L2240.7,1530.2 L2235.6,1531.8 L2230.6,1532.7 L2225.8,1532.8 L2221.2,1532.1 L2216.9,1530.7 L2213.1,1528.6 L2209.7,1525.8 L2206.8,1522.3 L2204.5,1518.3 L2202.9,1513.7 L2201.8,1508.7 L2201.4,1503.3 L2201.7,1497.7 L2202.7,1492.0 L2204.3,1486.1 L2206.5,1480.3 L2209.3,1474.6 L2212.6,1469.2 L2216.4,1464.1 L2220.6,1459.4 L2225.1,1455.2 L2230.0,1451.5 L2234.9,1448.5 L2240.0,1446.2 L2245.1,1444.6 L2250.1,1443.7 L2254.9,1443.6 L2259.5,1444.2 L2263.8,1445.6 L2267.7,1447.7 L2271.0,1450.6 L2273.9,1454.0 L2276.2,1458.1 L2277.9,1462.6 L2278.9,1467.6 L2279.3,1473.0 L2279.0,1478.6 Z" fill="url(#gd)" stroke="#333" stroke-width="0.8"/>
<path d="M2229.9,1421.8 L2267.7,1447.8 L2213.0,1528.6 L2175.2,1502.6 Z" fill="url(#gd)" stroke="none"/>
<line x1="2229.9" y1="1421.8" x2="2267.7" y2="1447.8" stroke-width="0.8" stroke="#333"/>
<line x1="2213.0" y1="1528.6" x2="2175.2" y2="1502.6" stroke-width="0.8" stroke="#333"/>
<path d="M2241.2,1452.6 L2240.2,1458.4 L2238.6,1464.2 L2236.4,1470.1 L2233.6,1475.7 L2230.3,1481.2 L2226.5,1486.3 L2222.3,1491.0 L2217.8,1495.2 L2213.0,1498.8 L2208.0,1501.8 L2202.9,1504.2 L2197.8,1505.8 L2192.8,1506.7 L2188.0,1506.8 L2183.4,1506.2 L2179.1,1504.8 L2175.3,1502.6 L2171.9,1499.8 L2169.0,1496.3 L2166.7,1492.3 L2165.0,1487.7 L2164.0,1482.7 L2163.6,1477.4 L2163.9,1471.8 L2164.8,1466.0 L2166.4,1460.2 L2168.7,1454.3 L2171.4,1448.7 L2174.8,1443.2 L2178.6,1438.1 L2182.8,1433.4 L2187.3,1429.2 L2192.1,1425.6 L2197.1,1422.6 L2202.2,1420.2 L2207.3,1418.6 L2212.3,1417.7 L2217.1,1417.6 L2221.7,1418.2 L2226.0,1419.6 L2229.8,1421.8 L2233.2,1424.6 L2236.1,1428.1 L2238.4,1432.1 L2240.1,1436.7 L2241.1,1441.7 L2241.5,1447.0 L2241.2,1452.6 Z" fill="#777" stroke="#333" stroke-width="0.8"/>
<path d="M2235.9,1454.0 L2235.0,1458.9 L2233.7,1464.0 L2231.8,1469.0 L2229.3,1473.9 L2226.5,1478.5 L2223.2,1483.0 L2219.6,1487.0 L2215.7,1490.6 L2211.5,1493.8 L2207.2,1496.4 L2202.8,1498.4 L2198.5,1499.8 L2194.1,1500.5 L2190.0,1500.6 L2186.0,1500.1 L2182.3,1498.9 L2179.0,1497.0 L2176.1,1494.6 L2173.6,1491.6 L2171.6,1488.1 L2170.2,1484.2 L2169.3,1479.9 L2169.0,1475.3 L2169.2,1470.4 L2170.0,1465.5 L2171.4,1460.4 L2173.3,1455.4 L2175.7,1450.5 L2178.6,1445.9 L2181.9,1441.4 L2185.5,1437.4 L2189.4,1433.8 L2193.6,1430.6 L2197.9,1428.0 L2202.2,1426.0 L2206.6,1424.6 L2210.9,1423.9 L2215.1,1423.8 L2219.1,1424.3 L2222.7,1425.5 L2226.1,1427.4 L2229.0,1429.8 L2231.5,1432.8 L2233.4,1436.3 L2234.9,1440.2 L2235.8,1444.5 L2236.1,1449.1 L2235.9,1454.0 Z" fill="url(#gd)" stroke="#333" stroke-width="0.8"/>
<path d="M2207.6,1414.7 L2226.1,1427.4 L2179.0,1497.0 L2160.4,1484.3 Z" fill="url(#gd)" stroke="none"/>
<line x1="2207.6" y1="1414.7" x2="2226.1" y2="1427.4" stroke-width="0.8" stroke="#333"/>
<line x1="2179.0" y1="1497.0" x2="2160.4" y2="1484.3" stroke-width="0.8" stroke="#333"/>
<path d="M2217.3,1441.2 L2216.5,1446.2 L2215.1,1451.2 L2213.2,1456.2 L2210.8,1461.1 L2208.0,1465.8 L2204.7,1470.2 L2201.1,1474.3 L2197.1,1477.9 L2193.0,1481.1 L2188.7,1483.7 L2184.3,1485.7 L2179.9,1487.1 L2175.6,1487.8 L2171.4,1487.9 L2167.5,1487.4 L2163.8,1486.2 L2160.5,1484.3 L2157.6,1481.9 L2155.1,1478.9 L2153.1,1475.4 L2151.7,1471.5 L2150.8,1467.2 L2150.4,1462.6 L2150.7,1457.7 L2151.5,1452.7 L2152.9,1447.7 L2154.8,1442.7 L2157.2,1437.8 L2160.1,1433.1 L2163.3,1428.7 L2167.0,1424.7 L2170.9,1421.0 L2175.0,1417.9 L2179.3,1415.3 L2183.7,1413.3 L2188.1,1411.9 L2192.4,1411.1 L2196.6,1411.0 L2200.5,1411.6 L2204.2,1412.8 L2207.5,1414.6 L2210.5,1417.1 L2212.9,1420.1 L2214.9,1423.5 L2216.4,1427.5 L2217.2,1431.8 L2217.6,1436.4 L2217.3,1441.2 Z" fill="#777" stroke="#333" stroke-width="0.8"/>
<circle cx="2271.8" cy="1357.8" r="12.0" stroke-width="1.5" fill="#2e2e2e" stroke="#111"/>
<circle cx="2273.3" cy="1358.8" r="5.4" stroke-width="1" fill="#777" stroke="#111"/>
<circle cx="2275.8" cy="1467.7" r="9.0" stroke-width="1.5" fill="#2e2e2e" stroke="#111"/>
<circle cx="2277.3" cy="1468.7" r="4.0" stroke-width="1" fill="#777" stroke="#111"/>
<circle cx="2286.0" cy="1488.0" r="9.0" stroke-width="1.5" fill="#2e2e2e" stroke="#111"/>
<circle cx="2287.5" cy="1489.0" r="4.0" stroke-width="1" fill="#777" stroke="#111"/>
<circle cx="2243.3" cy="1490.0" r="12.0" stroke-width="1.5" fill="#2e2e2e" stroke="#111"/>
<circle cx="2244.8" cy="1491.0" r="5.4" stroke-width="1" fill="#777" stroke="#111"/>
<circle cx="2232.0" cy="1478.0" r="8.0" stroke-width="1.5" fill="#2e2e2e" stroke="#111"/>
<circle cx="2233.5" cy="1479.0" r="3.6" stroke-width="1" fill="#777" stroke="#111"/>
<circle cx="2255.5" cy="1412.8" r="5.0" stroke-width="1.5" fill="#2e2e2e" stroke="#111"/>
<circle cx="2257.0" cy="1413.8" r="2.2" stroke-width="1" fill="#777" stroke="#111"/>
<circle cx="2188.4" cy="1520.6" r="5.0" stroke-width="1.5" fill="#2e2e2e" stroke="#111"/>
<circle cx="2189.9" cy="1521.6" r="2.2" stroke-width="1" fill="#777" stroke="#111"/>
<path d="M2228.3,1438.5 L2227.2,1445.1 L2225.4,1451.8 L2222.8,1458.5 L2219.6,1465.0 L2215.8,1471.2 L2211.5,1477.1 L2206.7,1482.4 L2201.4,1487.3 L2195.9,1491.4 L2190.2,1494.9 L2184.4,1497.6 L2178.6,1499.4 L2172.9,1500.4 L2167.3,1500.6 L2162.1,1499.8 L2157.2,1498.2 L2152.8,1495.8 L2148.9,1492.5 L2145.6,1488.6 L2143.0,1483.9 L2141.0,1478.7 L2139.9,1473.0 L2139.4,1466.9 L2139.8,1460.4 L2140.8,1453.8 L2142.7,1447.1 L2145.2,1440.5 L2148.4,1434.0 L2152.2,1427.8 L2156.6,1421.9 L2161.4,1416.5 L2166.6,1411.7 L2172.1,1407.5 L2177.8,1404.1 L2183.6,1401.4 L2189.4,1399.5 L2195.2,1398.5 L2200.7,1398.4 L2206.0,1399.1 L2210.8,1400.7 L2215.3,1403.2 L2219.1,1406.4 L2222.4,1410.4 L2225.1,1415.0 L2227.0,1420.2 L2228.2,1426.0 L2228.6,1432.1 L2228.3,1438.5 Z" fill="url(#gs)" stroke="#333" stroke-width="0.8"/>
<path d="M2193.7,1388.4 L2215.3,1403.2 L2152.7,1495.7 L2131.1,1480.9 Z" fill="url(#gs)" stroke="none"/>
<line x1="2193.7" y1="1388.4" x2="2215.3" y2="1403.2" stroke-width="0.8" stroke="#333"/>
<line x1="2152.7" y1="1495.7" x2="2131.1" y2="1480.9" stroke-width="0.8" stroke="#333"/>
<path d="M2206.7,1423.7 L2205.6,1430.3 L2203.7,1437.0 L2201.2,1443.6 L2198.0,1450.1 L2194.2,1456.4 L2189.9,1462.2 L2185.0,1467.6 L2179.8,1472.4 L2174.3,1476.6 L2168.6,1480.0 L2162.8,1482.7 L2157.0,1484.6 L2151.2,1485.6 L2145.7,1485.7 L2140.4,1485.0 L2135.6,1483.4 L2131.1,1480.9 L2127.3,1477.7 L2124.0,1473.7 L2121.4,1469.1 L2119.4,1463.9 L2118.2,1458.2 L2117.8,1452.0 L2118.1,1445.6 L2119.2,1439.0 L2121.0,1432.3 L2123.6,1425.6 L2126.8,1419.2 L2130.6,1412.9 L2134.9,1407.1 L2139.8,1401.7 L2145.0,1396.9 L2150.5,1392.7 L2156.2,1389.2 L2162.0,1386.6 L2167.8,1384.7 L2173.6,1383.7 L2179.1,1383.6 L2184.3,1384.3 L2189.2,1385.9 L2193.6,1388.3 L2197.5,1391.6 L2200.8,1395.5 L2203.4,1400.2 L2205.4,1405.4 L2206.6,1411.1 L2207.0,1417.3 L2206.7,1423.7 Z" fill="#8a8a8a" stroke="#333" stroke-width="0.8"/>
<path d="M2271.5,1407.6 L2268.8,1423.9 L2264.3,1440.4 L2258.1,1456.8 L2250.2,1472.8 L2240.8,1488.2 L2230.1,1502.6 L2218.2,1515.9 L2205.4,1527.7 L2191.8,1538.0 L2177.7,1546.6 L2163.4,1553.2 L2149.0,1557.7 L2134.9,1560.2 L2121.2,1560.5 L2108.3,1558.7 L2096.3,1554.7 L2085.4,1548.7 L2075.8,1540.8 L2067.7,1531.0 L2061.2,1519.6 L2056.5,1506.7 L2053.6,1492.6 L2052.5,1477.5 L2053.3,1461.6 L2056.0,1445.3 L2060.5,1428.9 L2066.7,1412.5 L2074.6,1396.5 L2084.0,1381.1 L2094.7,1366.7 L2106.6,1353.4 L2119.4,1341.5 L2133.0,1331.2 L2147.1,1322.7 L2161.4,1316.1 L2175.8,1311.5 L2189.9,1309.1 L2203.5,1308.8 L2216.5,1310.6 L2228.5,1314.5 L2239.4,1320.5 L2249.0,1328.5 L2257.1,1338.3 L2263.5,1349.7 L2268.3,1362.6 L2271.2,1376.7 L2272.3,1391.8 L2271.5,1407.6 Z" fill="url(#gb2)" stroke="#333" stroke-width="0.8"/>
<path d="M2231.8,1315.3 L2239.6,1320.6 L2085.2,1548.6 L2077.5,1543.3 Z" fill="url(#gb2)" stroke="none"/>
<line x1="2231.8" y1="1315.3" x2="2239.6" y2="1320.6" stroke-width="0.8" stroke="#333"/>
<line x1="2085.2" y1="1548.6" x2="2077.5" y2="1543.3" stroke-width="0.8" stroke="#333"/>
<path d="M2263.8,1402.3 L2261.1,1418.6 L2256.6,1435.1 L2250.3,1451.5 L2242.5,1467.5 L2233.1,1482.9 L2222.4,1497.3 L2210.5,1510.6 L2197.6,1522.4 L2184.1,1532.7 L2170.0,1541.3 L2155.7,1547.9 L2141.3,1552.4 L2127.2,1554.9 L2113.5,1555.2 L2100.6,1553.4 L2088.6,1549.4 L2077.7,1543.4 L2068.1,1535.5 L2060.0,1525.7 L2053.5,1514.3 L2048.8,1501.4 L2045.9,1487.3 L2044.8,1472.2 L2045.6,1456.3 L2048.3,1440.0 L2052.8,1423.6 L2059.0,1407.2 L2066.9,1391.2 L2076.3,1375.8 L2087.0,1361.4 L2098.9,1348.1 L2111.7,1336.2 L2125.3,1325.9 L2139.4,1317.4 L2153.7,1310.8 L2168.0,1306.2 L2182.2,1303.8 L2195.8,1303.5 L2208.8,1305.3 L2220.8,1309.2 L2231.7,1315.2 L2241.3,1323.2 L2249.4,1333.0 L2255.8,1344.4 L2260.6,1357.3 L2263.5,1371.4 L2264.6,1386.5 L2263.8,1402.3 Z" fill="#4a63b8" stroke="#333" stroke-width="0.8"/>
<path d="M2263.8,1402.3 L2261.1,1418.6 L2256.6,1435.1 L2250.3,1451.5 L2242.5,1467.5 L2233.1,1482.9 L2222.4,1497.3 L2210.5,1510.6 L2197.6,1522.4 L2184.1,1532.7 L2170.0,1541.3 L2155.7,1547.9 L2141.3,1552.4 L2127.2,1554.9 L2113.5,1555.2 L2100.6,1553.4 L2088.6,1549.4 L2077.7,1543.4 L2068.1,1535.5 L2060.0,1525.7 L2053.5,1514.3 L2048.8,1501.4 L2045.9,1487.3 L2044.8,1472.2 L2045.6,1456.3 L2048.3,1440.0 L2052.8,1423.6 L2059.0,1407.2 L2066.9,1391.2 L2076.3,1375.8 L2087.0,1361.4 L2098.9,1348.1 L2111.7,1336.2 L2125.3,1325.9 L2139.4,1317.4 L2153.7,1310.8 L2168.0,1306.2 L2182.2,1303.8 L2195.8,1303.5 L2208.8,1305.3 L2220.8,1309.2 L2231.7,1315.2 L2241.3,1323.2 L2249.4,1333.0 L2255.8,1344.4 L2260.6,1357.3 L2263.5,1371.4 L2264.6,1386.5 L2263.8,1402.3 Z" fill="url(#gs)" stroke="#333" stroke-width="0.8"/>
<path d="M2210.2,1300.5 L2231.8,1315.3 L2077.5,1543.3 L2055.9,1528.5 Z" fill="url(#gs)" stroke="none"/>
<line x1="2210.2" y1="1300.5" x2="2231.8" y2="1315.3" stroke-width="0.8" stroke="#333"/>
<line x1="2077.5" y1="1543.3" x2="2055.9" y2="1528.5" stroke-width="0.8" stroke="#333"/>
<path d="M2242.1,1387.5 L2239.5,1403.8 L2235.0,1420.3 L2228.7,1436.7 L2220.8,1452.7 L2211.5,1468.0 L2200.7,1482.4 L2188.9,1495.7 L2176.0,1507.6 L2162.4,1517.9 L2148.4,1526.4 L2134.0,1533.0 L2119.7,1537.6 L2105.6,1540.1 L2091.9,1540.4 L2079.0,1538.6 L2066.9,1534.6 L2056.0,1528.6 L2046.5,1520.6 L2038.4,1510.9 L2031.9,1499.4 L2027.2,1486.6 L2024.2,1472.4 L2023.2,1457.3 L2024.0,1441.5 L2026.7,1425.2 L2031.2,1408.7 L2037.4,1392.3 L2045.3,1376.3 L2054.7,1361.0 L2065.4,1346.6 L2077.3,1333.3 L2090.1,1321.4 L2103.7,1311.1 L2117.7,1302.6 L2132.1,1296.0 L2146.4,1291.4 L2160.6,1288.9 L2174.2,1288.6 L2187.2,1290.4 L2199.2,1294.4 L2210.1,1300.4 L2219.6,1308.4 L2227.7,1318.1 L2234.2,1329.6 L2239.0,1342.4 L2241.9,1356.6 L2243.0,1371.7 L2242.1,1387.5 Z" fill="#8f8f8f" stroke="#333" stroke-width="0.8"/>
<path d="M2261.3,1382.8 L2258.1,1401.9 L2252.8,1421.3 L2245.5,1440.5 L2236.2,1459.4 L2225.2,1477.4 L2212.6,1494.4 L2198.6,1510.0 L2183.6,1523.9 L2167.6,1536.0 L2151.1,1546.0 L2134.2,1553.8 L2117.3,1559.2 L2100.7,1562.1 L2084.7,1562.5 L2069.5,1560.3 L2055.3,1555.7 L2042.5,1548.6 L2031.3,1539.2 L2021.8,1527.8 L2014.2,1514.3 L2008.6,1499.2 L2005.1,1482.6 L2003.9,1464.9 L2004.8,1446.2 L2008.0,1427.1 L2013.3,1407.7 L2020.6,1388.5 L2029.9,1369.6 L2040.9,1351.6 L2053.5,1334.6 L2067.5,1319.0 L2082.6,1305.1 L2098.5,1293.0 L2115.1,1283.0 L2131.9,1275.2 L2148.8,1269.8 L2165.4,1266.9 L2181.4,1266.5 L2196.6,1268.7 L2210.8,1273.3 L2223.6,1280.4 L2234.8,1289.8 L2244.3,1301.2 L2252.0,1314.7 L2257.5,1329.8 L2261.0,1346.4 L2262.2,1364.1 L2261.3,1382.8 Z" fill="url(#gs)" stroke="#333" stroke-width="0.8"/>
<path d="M2209.1,1270.4 L2223.8,1280.5 L2042.4,1548.5 L2027.7,1538.4 Z" fill="url(#gs)" stroke="none"/>
<line x1="2209.1" y1="1270.4" x2="2223.8" y2="1280.5" stroke-width="0.8" stroke="#333"/>
<line x1="2042.4" y1="1548.5" x2="2027.7" y2="1538.4" stroke-width="0.8" stroke="#333"/>
<path d="M2246.6,1372.7 L2243.5,1391.8 L2238.2,1411.2 L2230.8,1430.5 L2221.6,1449.3 L2210.5,1467.3 L2197.9,1484.3 L2184.0,1499.9 L2168.9,1513.9 L2152.9,1526.0 L2136.4,1536.0 L2119.5,1543.7 L2102.7,1549.1 L2086.1,1552.0 L2070.0,1552.4 L2054.8,1550.2 L2040.7,1545.6 L2027.9,1538.5 L2016.6,1529.2 L2007.1,1517.7 L1999.5,1504.3 L1993.9,1489.1 L1990.5,1472.5 L1989.2,1454.8 L1990.2,1436.2 L1993.3,1417.0 L1998.6,1397.6 L2006.0,1378.4 L2015.2,1359.6 L2026.2,1341.5 L2038.8,1324.6 L2052.8,1309.0 L2067.9,1295.0 L2083.8,1282.9 L2100.4,1272.9 L2117.2,1265.1 L2134.1,1259.7 L2150.7,1256.8 L2166.8,1256.5 L2182.0,1258.6 L2196.1,1263.3 L2208.9,1270.3 L2220.2,1279.7 L2229.7,1291.2 L2237.3,1304.6 L2242.9,1319.7 L2246.3,1336.3 L2247.6,1354.1 L2246.6,1372.7 Z" fill="#9a9a9a" stroke="#333" stroke-width="0.8"/>
<path d="M2247.8,1372.4 L2244.7,1391.7 L2239.3,1411.3 L2231.9,1430.7 L2222.6,1449.7 L2211.4,1467.9 L2198.7,1485.1 L2184.6,1500.8 L2169.4,1514.9 L2153.3,1527.1 L2136.6,1537.2 L2119.6,1545.1 L2102.5,1550.5 L2085.8,1553.4 L2069.6,1553.8 L2054.2,1551.7 L2039.9,1547.0 L2027.0,1539.8 L2015.6,1530.4 L2006.0,1518.8 L1998.4,1505.2 L1992.7,1489.9 L1989.2,1473.2 L1988.0,1455.3 L1988.9,1436.5 L1992.1,1417.1 L1997.5,1397.6 L2004.9,1378.1 L2014.2,1359.1 L2025.4,1340.9 L2038.1,1323.8 L2052.2,1308.0 L2067.4,1293.9 L2083.5,1281.7 L2100.2,1271.6 L2117.2,1263.8 L2134.3,1258.3 L2151.0,1255.4 L2167.2,1255.0 L2182.6,1257.2 L2196.9,1261.9 L2209.8,1269.0 L2221.1,1278.5 L2230.8,1290.1 L2238.4,1303.6 L2244.1,1318.9 L2247.5,1335.7 L2248.8,1353.6 L2247.8,1372.4 Z" fill="url(#gs)" stroke="#333" stroke-width="0.8"/>
<path d="M2149.7,1227.8 L2210.0,1269.1 L2026.8,1539.7 L1966.6,1498.4 Z" fill="url(#gs)" stroke="none"/>
<line x1="2149.7" y1="1227.8" x2="2210.0" y2="1269.1" stroke-width="0.8" stroke="#333"/>
<line x1="2026.8" y1="1539.7" x2="1966.6" y2="1498.4" stroke-width="0.8" stroke="#333"/>
<path d="M2187.6,1331.0 L2184.4,1350.4 L2179.1,1369.9 L2171.7,1389.4 L2162.3,1408.4 L2151.2,1426.6 L2138.5,1443.7 L2124.4,1459.5 L2109.2,1473.6 L2093.1,1485.8 L2076.4,1495.9 L2059.3,1503.7 L2042.3,1509.2 L2025.5,1512.1 L2009.3,1512.5 L1994.0,1510.3 L1979.7,1505.6 L1966.8,1498.5 L1955.4,1489.0 L1945.8,1477.4 L1938.1,1463.9 L1932.5,1448.6 L1929.0,1431.9 L1927.8,1413.9 L1928.7,1395.1 L1931.9,1375.8 L1937.2,1356.2 L1944.7,1336.8 L1954.0,1317.8 L1965.1,1299.6 L1977.9,1282.5 L1992.0,1266.7 L2007.2,1252.6 L2023.3,1240.4 L2040.0,1230.3 L2057.0,1222.4 L2074.0,1217.0 L2090.8,1214.1 L2107.0,1213.7 L2122.4,1215.9 L2136.6,1220.6 L2149.6,1227.7 L2160.9,1237.1 L2170.5,1248.7 L2178.2,1262.3 L2183.8,1277.6 L2187.3,1294.3 L2188.6,1312.3 L2187.6,1331.0 Z" fill="#8c8c8c" stroke="#333" stroke-width="0.8"/>
<path d="M2170.6,1242.1 L2181.9,1251.6 L2191.5,1263.2 L2199.2,1276.8 L2204.8,1292.1 L2208.2,1308.9 L2209.4,1326.8 L2208.4,1345.6 L2205.2,1365.0 L2199.9,1384.5 L2192.4,1404.0 L2183.0,1423.0 L2171.9,1441.2 L2159.1,1458.3 L2145.0,1474.0 L2129.8,1488.1 L2113.7,1500.3 L2097.0,1510.3 L2079.9,1518.1 L2062.9,1523.5 L2046.2,1526.4 L2030.0,1526.8 L2014.6,1524.6 L2000.4,1519.8 L1987.5,1512.7" stroke="#333" stroke-width="0.8"/>
<path d="M2189.9,1255.4 L2201.2,1264.8 L2210.8,1276.5 L2218.5,1290.1 L2224.1,1305.4 L2227.5,1322.1 L2228.7,1340.1 L2227.7,1358.9 L2224.5,1378.2 L2219.2,1397.8 L2211.7,1417.2 L2202.3,1436.2 L2191.2,1454.4 L2178.4,1471.5 L2164.3,1487.2 L2149.1,1501.3 L2133.0,1513.5 L2116.3,1523.6 L2099.2,1531.4 L2082.2,1536.8 L2065.5,1539.7 L2049.3,1540.0 L2033.9,1537.8 L2019.7,1533.1 L2006.8,1525.9" stroke="#333" stroke-width="0.8"/>
<path d="M2210.5,1325.4 L2206.7,1348.1 L2200.4,1371.2 L2191.7,1394.0 L2180.7,1416.4 L2167.6,1437.8 L2152.7,1458.0 L2136.1,1476.5 L2118.2,1493.1 L2099.2,1507.4 L2079.6,1519.3 L2059.5,1528.6 L2039.5,1535.0 L2019.8,1538.4 L2000.7,1538.9 L1982.6,1536.3 L1965.9,1530.8 L1950.7,1522.4 L1937.3,1511.3 L1926.0,1497.6 L1917.0,1481.7 L1910.3,1463.7 L1906.2,1444.0 L1904.7,1422.9 L1905.9,1400.8 L1909.6,1378.0 L1915.9,1355.0 L1924.6,1332.2 L1935.6,1309.8 L1948.7,1288.4 L1963.7,1268.2 L1980.3,1249.7 L1998.2,1233.1 L2017.1,1218.7 L2036.8,1206.8 L2056.8,1197.6 L2076.8,1191.2 L2096.6,1187.8 L2115.6,1187.3 L2133.7,1189.9 L2150.5,1195.4 L2165.7,1203.8 L2179.1,1214.9 L2190.4,1228.6 L2199.4,1244.5 L2206.0,1262.5 L2210.1,1282.2 L2211.6,1303.3 L2210.5,1325.4 Z" fill="#4a4a4a" stroke="#333" stroke-width="0.8"/>
<path d="M2159.7,1199.7 L2165.9,1203.9 L1950.5,1522.2 L1944.3,1518.0 Z" fill="#4a4a4a" stroke="none"/>
<line x1="2159.7" y1="1199.7" x2="2165.9" y2="1203.9" stroke-width="0.8" stroke="#333"/>
<line x1="1950.5" y1="1522.2" x2="1944.3" y2="1518.0" stroke-width="0.8" stroke="#333"/>
<path d="M2204.3,1321.2 L2200.6,1343.9 L2194.3,1366.9 L2185.6,1389.8 L2174.6,1412.1 L2161.5,1433.6 L2146.5,1453.7 L2129.9,1472.2 L2112.0,1488.8 L2093.0,1503.2 L2073.4,1515.1 L2053.4,1524.3 L2033.3,1530.7 L2013.6,1534.2 L1994.5,1534.6 L1976.5,1532.1 L1959.7,1526.5 L1944.5,1518.1 L1931.1,1507.0 L1919.8,1493.4 L1910.8,1477.4 L1904.2,1459.4 L1900.1,1439.7 L1898.6,1418.7 L1899.7,1396.5 L1903.4,1373.8 L1909.7,1350.8 L1918.4,1327.9 L1929.4,1305.6 L1942.5,1284.1 L1957.5,1264.0 L1974.1,1245.5 L1992.0,1228.9 L2011.0,1214.5 L2030.6,1202.6 L2050.6,1193.4 L2070.7,1187.0 L2090.4,1183.5 L2109.5,1183.1 L2127.5,1185.6 L2144.3,1191.2 L2159.5,1199.6 L2172.9,1210.7 L2184.2,1224.3 L2193.2,1240.3 L2199.8,1258.3 L2203.9,1278.0 L2205.4,1299.0 L2204.3,1321.2 Z" fill="#666" stroke="#333" stroke-width="0.8"/>
<path d="M2228.1,1315.3 L2223.8,1341.6 L2216.5,1368.2 L2206.4,1394.6 L2193.7,1420.5 L2178.6,1445.2 L2161.2,1468.5 L2142.1,1490.0 L2121.3,1509.1 L2099.4,1525.8 L2076.7,1539.5 L2053.6,1550.2 L2030.4,1557.6 L2007.6,1561.6 L1985.6,1562.1 L1964.7,1559.1 L1945.3,1552.7 L1927.7,1543.0 L1912.2,1530.2 L1899.2,1514.4 L1888.7,1496.0 L1881.1,1475.2 L1876.3,1452.4 L1874.6,1428.0 L1875.9,1402.4 L1880.2,1376.1 L1887.5,1349.5 L1897.6,1323.1 L1910.3,1297.2 L1925.4,1272.5 L1942.8,1249.2 L1961.9,1227.7 L1982.7,1208.6 L2004.6,1191.9 L2027.3,1178.2 L2050.4,1167.5 L2073.6,1160.1 L2096.4,1156.1 L2118.4,1155.6 L2139.3,1158.6 L2158.7,1165.0 L2176.3,1174.7 L2191.8,1187.5 L2204.8,1203.3 L2215.3,1221.7 L2222.9,1242.5 L2227.7,1265.3 L2229.4,1289.7 L2228.1,1315.3 Z" fill="url(#gs)" stroke="#333" stroke-width="0.8"/>
<path d="M2154.9,1160.0 L2176.6,1174.8 L1927.4,1542.9 L1905.8,1528.0 Z" fill="url(#gs)" stroke="none"/>
<line x1="2154.9" y1="1160.0" x2="2176.6" y2="1174.8" stroke-width="0.8" stroke="#333"/>
<line x1="1927.4" y1="1542.9" x2="1905.8" y2="1528.0" stroke-width="0.8" stroke="#333"/>
<path d="M2206.5,1300.4 L2202.1,1326.7 L2194.9,1353.3 L2184.8,1379.8 L2172.1,1405.6 L2156.9,1430.4 L2139.6,1453.7 L2120.5,1475.1 L2099.7,1494.3 L2077.8,1510.9 L2055.1,1524.7 L2032.0,1535.3 L2008.8,1542.7 L1986.0,1546.7 L1964.0,1547.2 L1943.1,1544.3 L1923.6,1537.9 L1906.1,1528.2 L1890.6,1515.3 L1877.5,1499.6 L1867.1,1481.1 L1859.4,1460.3 L1854.7,1437.5 L1853.0,1413.2 L1854.3,1387.6 L1858.6,1361.3 L1865.9,1334.7 L1876.0,1308.2 L1888.7,1282.4 L1903.8,1257.6 L1921.1,1234.3 L1940.3,1212.9 L1961.0,1193.7 L1982.9,1177.1 L2005.7,1163.3 L2028.8,1152.7 L2052.0,1145.3 L2074.8,1141.3 L2096.8,1140.8 L2117.7,1143.7 L2137.1,1150.1 L2154.7,1159.8 L2170.2,1172.7 L2183.2,1188.5 L2193.7,1206.9 L2201.3,1227.7 L2206.1,1250.5 L2207.8,1274.9 L2206.5,1300.4 Z" fill="#bdbdbd" stroke="#333" stroke-width="0.8"/>
<path d="M2099.1,1151.3 L2098.3,1154.1 L2096.7,1156.7 L2094.5,1158.7 L2092.1,1159.8 L2089.8,1159.9 L2088.0,1158.9 L2086.9,1156.9 L2086.7,1154.4 L2087.4,1151.6 L2089.0,1149.0 L2091.2,1147.0 L2093.6,1145.9 L2095.9,1145.8 L2097.8,1146.8 L2098.9,1148.8 Z" fill="#6a6a6a" stroke="#222" stroke-width="0.8"/>
<path d="M2168.0,1181.3 L2167.3,1184.1 L2165.7,1186.7 L2163.5,1188.7 L2161.1,1189.8 L2158.8,1189.9 L2156.9,1188.9 L2155.9,1186.9 L2155.7,1184.4 L2156.4,1181.6 L2158.0,1179.0 L2160.2,1177.0 L2162.6,1175.9 L2164.9,1175.8 L2166.8,1176.8 L2167.9,1178.8 Z" fill="#6a6a6a" stroke="#222" stroke-width="0.8"/>
<path d="M2201.8,1254.5 L2201.0,1257.3 L2199.5,1259.9 L2197.3,1261.9 L2194.9,1263.0 L2192.6,1263.1 L2190.7,1262.1 L2189.6,1260.1 L2189.4,1257.6 L2190.2,1254.8 L2191.8,1252.2 L2194.0,1250.2 L2196.4,1249.0 L2198.7,1249.0 L2200.5,1250.0 L2201.6,1251.9 Z" fill="#6a6a6a" stroke="#222" stroke-width="0.8"/>
<path d="M2191.3,1351.3 L2190.5,1354.0 L2189.0,1356.6 L2186.8,1358.6 L2184.4,1359.8 L2182.0,1359.8 L2180.2,1358.8 L2179.1,1356.9 L2178.9,1354.3 L2179.7,1351.5 L2181.3,1348.9 L2183.4,1346.9 L2185.9,1345.8 L2188.2,1345.7 L2190.0,1346.8 L2191.1,1348.7 Z" fill="#6a6a6a" stroke="#222" stroke-width="0.8"/>
<path d="M2139.3,1445.7 L2138.6,1448.4 L2137.0,1451.0 L2134.8,1453.0 L2132.4,1454.2 L2130.1,1454.2 L2128.2,1453.2 L2127.1,1451.3 L2127.0,1448.7 L2127.7,1445.9 L2129.3,1443.3 L2131.5,1441.3 L2133.9,1440.2 L2136.2,1440.1 L2138.1,1441.2 L2139.1,1443.1 Z" fill="#6a6a6a" stroke="#222" stroke-width="0.8"/>
<path d="M2059.8,1512.4 L2059.1,1515.2 L2057.5,1517.8 L2055.3,1519.8 L2052.9,1520.9 L2050.6,1521.0 L2048.7,1520.0 L2047.6,1518.0 L2047.5,1515.5 L2048.2,1512.7 L2049.8,1510.1 L2052.0,1508.1 L2054.4,1507.0 L2056.7,1506.9 L2058.5,1507.9 L2059.6,1509.9 Z" fill="#6a6a6a" stroke="#222" stroke-width="0.8"/>
<path d="M1974.1,1533.6 L1973.3,1536.4 L1971.7,1539.0 L1969.6,1541.0 L1967.1,1542.1 L1964.8,1542.2 L1963.0,1541.2 L1961.9,1539.2 L1961.7,1536.7 L1962.5,1533.9 L1964.1,1531.3 L1966.2,1529.3 L1968.7,1528.2 L1971.0,1528.1 L1972.8,1529.1 L1973.9,1531.1 Z" fill="#6a6a6a" stroke="#222" stroke-width="0.8"/>
<path d="M1905.1,1503.6 L1904.3,1506.4 L1902.7,1509.0 L1900.6,1511.0 L1898.2,1512.1 L1895.8,1512.2 L1894.0,1511.2 L1892.9,1509.3 L1892.7,1506.7 L1893.5,1503.9 L1895.1,1501.3 L1897.2,1499.3 L1899.7,1498.2 L1902.0,1498.1 L1903.8,1499.1 L1904.9,1501.1 Z" fill="#6a6a6a" stroke="#222" stroke-width="0.8"/>
<path d="M1871.3,1430.5 L1870.6,1433.2 L1869.0,1435.8 L1866.8,1437.9 L1864.4,1439.0 L1862.1,1439.0 L1860.2,1438.0 L1859.1,1436.1 L1859.0,1433.5 L1859.7,1430.7 L1861.3,1428.1 L1863.5,1426.1 L1865.9,1425.0 L1868.2,1425.0 L1870.1,1426.0 L1871.1,1427.9 Z" fill="#6a6a6a" stroke="#222" stroke-width="0.8"/>
<path d="M1881.8,1333.7 L1881.1,1336.5 L1879.5,1339.1 L1877.3,1341.1 L1874.9,1342.2 L1872.6,1342.3 L1870.7,1341.3 L1869.6,1339.3 L1869.5,1336.8 L1870.2,1334.0 L1871.8,1331.4 L1874.0,1329.4 L1876.4,1328.3 L1878.7,1328.2 L1880.6,1329.2 L1881.7,1331.2 Z" fill="#6a6a6a" stroke="#222" stroke-width="0.8"/>
<path d="M1933.8,1239.3 L1933.1,1242.1 L1931.5,1244.7 L1929.3,1246.7 L1926.9,1247.8 L1924.6,1247.9 L1922.7,1246.9 L1921.6,1244.9 L1921.4,1242.4 L1922.2,1239.6 L1923.8,1237.0 L1926.0,1235.0 L1928.4,1233.9 L1930.7,1233.8 L1932.5,1234.8 L1933.6,1236.7 Z" fill="#6a6a6a" stroke="#222" stroke-width="0.8"/>
<path d="M2013.3,1172.5 L2012.6,1175.3 L2011.0,1177.9 L2008.8,1179.9 L2006.4,1181.1 L2004.1,1181.1 L2002.2,1180.1 L2001.1,1178.2 L2000.9,1175.6 L2001.7,1172.8 L2003.3,1170.2 L2005.5,1168.2 L2007.9,1167.1 L2010.2,1167.0 L2012.0,1168.1 L2013.1,1170.0 Z" fill="#6a6a6a" stroke="#222" stroke-width="0.8"/>
<path d="M2183.2,1306.2 L2179.4,1329.0 L2173.1,1352.1 L2164.4,1375.0 L2153.3,1397.5 L2140.2,1419.0 L2125.2,1439.2 L2108.5,1457.8 L2090.5,1474.4 L2071.5,1488.8 L2051.8,1500.7 L2031.8,1510.0 L2011.7,1516.4 L1991.9,1519.9 L1972.8,1520.3 L1954.6,1517.8 L1937.8,1512.2 L1922.5,1503.8 L1909.1,1492.7 L1897.8,1479.0 L1888.7,1463.0 L1882.1,1444.9 L1878.0,1425.2 L1876.5,1404.0 L1877.6,1381.8 L1881.4,1359.0 L1887.7,1335.9 L1896.4,1313.0 L1907.4,1290.6 L1920.6,1269.1 L1935.6,1248.8 L1952.2,1230.3 L1970.2,1213.6 L1989.2,1199.2 L2008.9,1187.3 L2029.0,1178.0 L2049.1,1171.6 L2068.9,1168.2 L2088.0,1167.7 L2106.1,1170.3 L2123.0,1175.8 L2138.2,1184.2 L2151.7,1195.4 L2163.0,1209.1 L2172.0,1225.1 L2178.7,1243.1 L2182.8,1262.9 L2184.3,1284.0 L2183.2,1306.2 Z" fill="url(#gs)" stroke="#333" stroke-width="0.8"/>
<path d="M2125.3,1175.3 L2138.4,1184.4 L1922.3,1503.7 L1909.2,1494.7 Z" fill="url(#gs)" stroke="none"/>
<line x1="2125.3" y1="1175.3" x2="2138.4" y2="1184.4" stroke-width="0.8" stroke="#333"/>
<line x1="1922.3" y1="1503.7" x2="1909.2" y2="1494.7" stroke-width="0.8" stroke="#333"/>
<path d="M2170.0,1297.2 L2166.3,1320.0 L2160.0,1343.1 L2151.2,1366.0 L2140.2,1388.4 L2127.1,1409.9 L2112.0,1430.2 L2095.4,1448.8 L2077.4,1465.4 L2058.4,1479.8 L2038.7,1491.7 L2018.6,1501.0 L1998.5,1507.4 L1978.8,1510.9 L1959.6,1511.3 L1941.5,1508.7 L1924.7,1503.2 L1909.4,1494.8 L1896.0,1483.6 L1884.7,1470.0 L1875.6,1453.9 L1869.0,1435.9 L1864.8,1416.1 L1863.4,1395.0 L1864.5,1372.8 L1868.2,1350.0 L1874.5,1326.9 L1883.3,1304.0 L1894.3,1281.6 L1907.5,1260.1 L1922.5,1239.8 L1939.1,1221.2 L1957.1,1204.6 L1976.1,1190.2 L1995.8,1178.3 L2015.9,1169.0 L2036.0,1162.6 L2055.8,1159.1 L2074.9,1158.7 L2093.0,1161.3 L2109.9,1166.8 L2125.1,1175.2 L2138.5,1186.4 L2149.9,1200.0 L2158.9,1216.1 L2165.6,1234.1 L2169.7,1253.9 L2171.2,1275.0 L2170.0,1297.2 Z" fill="#888" stroke="#333" stroke-width="0.8"/>
<path d="M2172.4,1296.6 L2168.6,1319.8 L2162.2,1343.2 L2153.3,1366.5 L2142.1,1389.3 L2128.8,1411.1 L2113.5,1431.6 L2096.6,1450.5 L2078.4,1467.4 L2059.1,1482.1 L2039.0,1494.2 L2018.7,1503.6 L1998.2,1510.1 L1978.2,1513.6 L1958.7,1514.1 L1940.3,1511.5 L1923.2,1505.8 L1907.7,1497.3 L1894.1,1486.0 L1882.6,1472.1 L1873.4,1455.8 L1866.6,1437.5 L1862.5,1417.4 L1861.0,1395.9 L1862.1,1373.4 L1865.9,1350.2 L1872.3,1326.8 L1881.2,1303.5 L1892.4,1280.7 L1905.8,1258.9 L1921.0,1238.4 L1937.9,1219.5 L1956.2,1202.6 L1975.5,1187.9 L1995.5,1175.8 L2015.9,1166.4 L2036.3,1159.9 L2056.4,1156.4 L2075.8,1155.9 L2094.2,1158.5 L2111.3,1164.2 L2126.8,1172.7 L2140.4,1184.0 L2151.9,1197.9 L2161.1,1214.2 L2167.9,1232.5 L2172.0,1252.6 L2173.6,1274.1 L2172.4,1296.6 Z" fill="url(#gb)" stroke="#333" stroke-width="0.8"/>
<path d="M2105.4,1158.0 L2127.0,1172.9 L1907.5,1497.1 L1885.9,1482.3 Z" fill="url(#gb)" stroke="none"/>
<line x1="2105.4" y1="1158.0" x2="2127.0" y2="1172.9" stroke-width="0.8" stroke="#333"/>
<line x1="1907.5" y1="1497.1" x2="1885.9" y2="1482.3" stroke-width="0.8" stroke="#333"/>
<path d="M2150.8,1281.8 L2147.0,1304.9 L2140.6,1328.4 L2131.7,1351.7 L2120.5,1374.4 L2107.2,1396.3 L2091.9,1416.8 L2075.0,1435.7 L2056.7,1452.6 L2037.4,1467.2 L2017.4,1479.3 L1997.0,1488.7 L1976.6,1495.2 L1956.5,1498.8 L1937.1,1499.2 L1918.7,1496.6 L1901.6,1491.0 L1886.1,1482.4 L1872.5,1471.1 L1861.0,1457.2 L1851.8,1441.0 L1845.0,1422.6 L1840.9,1402.6 L1839.3,1381.1 L1840.5,1358.6 L1844.3,1335.4 L1850.7,1311.9 L1859.6,1288.6 L1870.8,1265.9 L1884.1,1244.0 L1899.4,1223.5 L1916.3,1204.6 L1934.5,1187.7 L1953.8,1173.1 L1973.9,1161.0 L1994.3,1151.6 L2014.7,1145.1 L2034.8,1141.6 L2054.2,1141.1 L2072.6,1143.7 L2089.7,1149.3 L2105.2,1157.9 L2118.8,1169.2 L2130.3,1183.1 L2139.5,1199.4 L2146.3,1217.7 L2150.4,1237.7 L2151.9,1259.2 L2150.8,1281.8 Z" fill="#7080b0" stroke="#333" stroke-width="0.8"/>
<path d="M2152.7,1281.3 L2148.8,1304.7 L2142.4,1328.5 L2133.4,1352.1 L2122.0,1375.1 L2108.5,1397.2 L2093.1,1418.0 L2076.0,1437.1 L2057.5,1454.2 L2038.0,1469.0 L2017.7,1481.3 L1997.1,1490.8 L1976.4,1497.4 L1956.1,1500.9 L1936.4,1501.4 L1917.8,1498.8 L1900.4,1493.1 L1884.8,1484.4 L1871.0,1473.0 L1859.3,1458.9 L1850.0,1442.4 L1843.2,1423.9 L1839.0,1403.6 L1837.4,1381.8 L1838.6,1359.0 L1842.4,1335.6 L1848.9,1311.8 L1857.9,1288.3 L1869.3,1265.2 L1882.8,1243.1 L1898.2,1222.3 L1915.3,1203.2 L1933.8,1186.1 L1953.3,1171.3 L1973.6,1159.0 L1994.2,1149.5 L2014.9,1142.9 L2035.2,1139.4 L2054.9,1138.9 L2073.5,1141.5 L2090.8,1147.2 L2106.5,1155.9 L2120.3,1167.3 L2132.0,1181.4 L2141.3,1197.9 L2148.1,1216.4 L2152.3,1236.7 L2153.9,1258.5 L2152.7,1281.3 Z" fill="url(#gs)" stroke="#333" stroke-width="0.8"/>
<path d="M2092.1,1146.0 L2106.7,1156.0 L1884.6,1484.3 L1869.9,1474.2 Z" fill="url(#gs)" stroke="none"/>
<line x1="2092.1" y1="1146.0" x2="2106.7" y2="1156.0" stroke-width="0.8" stroke="#333"/>
<line x1="1884.6" y1="1484.3" x2="1869.9" y2="1474.2" stroke-width="0.8" stroke="#333"/>
<path d="M2138.0,1271.2 L2134.2,1294.7 L2127.7,1318.4 L2118.7,1342.0 L2107.4,1365.0 L2093.9,1387.1 L2078.4,1407.9 L2061.3,1427.0 L2042.8,1444.1 L2023.3,1459.0 L2003.0,1471.2 L1982.4,1480.7 L1961.7,1487.3 L1941.4,1490.9 L1921.7,1491.3 L1903.1,1488.7 L1885.8,1483.0 L1870.1,1474.4 L1856.3,1462.9 L1844.7,1448.8 L1835.3,1432.4 L1828.5,1413.8 L1824.3,1393.5 L1822.8,1371.8 L1823.9,1349.0 L1827.8,1325.5 L1834.3,1301.8 L1843.2,1278.2 L1854.6,1255.1 L1868.1,1233.0 L1883.5,1212.3 L1900.6,1193.2 L1919.1,1176.0 L1938.7,1161.2 L1958.9,1149.0 L1979.6,1139.4 L2000.2,1132.9 L2020.6,1129.3 L2040.2,1128.8 L2058.9,1131.5 L2076.2,1137.2 L2091.9,1145.8 L2105.6,1157.3 L2117.3,1171.4 L2126.6,1187.8 L2133.4,1206.3 L2137.7,1226.7 L2139.2,1248.4 L2138.0,1271.2 Z" fill="#a0a0a0" stroke="#333" stroke-width="0.8"/>
<path d="M2154.7,1264.9 L2150.4,1291.2 L2143.2,1317.8 L2133.1,1344.3 L2120.4,1370.1 L2105.2,1394.9 L2087.9,1418.2 L2068.7,1439.6 L2048.0,1458.8 L2026.1,1475.4 L2003.4,1489.2 L1980.2,1499.8 L1957.1,1507.2 L1934.3,1511.2 L1912.2,1511.7 L1891.3,1508.8 L1871.9,1502.4 L1854.3,1492.7 L1838.9,1479.8 L1825.8,1464.1 L1815.4,1445.6 L1807.7,1424.8 L1803.0,1402.0 L1801.3,1377.7 L1802.6,1352.1 L1806.9,1325.8 L1814.2,1299.2 L1824.2,1272.7 L1837.0,1246.9 L1852.1,1222.1 L1869.4,1198.8 L1888.6,1177.4 L1909.3,1158.2 L1931.2,1141.6 L1953.9,1127.8 L1977.1,1117.2 L2000.2,1109.8 L2023.0,1105.8 L2045.1,1105.3 L2066.0,1108.2 L2085.4,1114.6 L2103.0,1124.3 L2118.4,1137.2 L2131.5,1152.9 L2142.0,1171.4 L2149.6,1192.2 L2154.3,1215.0 L2156.1,1239.3 L2154.7,1264.9 Z" fill="url(#gs)" stroke="#333" stroke-width="0.8"/>
<path d="M2080.1,1108.6 L2103.2,1124.5 L1854.1,1492.5 L1830.9,1476.6 Z" fill="url(#gs)" stroke="none"/>
<line x1="2080.1" y1="1108.6" x2="2103.2" y2="1124.5" stroke-width="0.8" stroke="#333"/>
<line x1="1854.1" y1="1492.5" x2="1830.9" y2="1476.6" stroke-width="0.8" stroke="#333"/>
<path d="M2131.6,1249.0 L2127.3,1275.3 L2120.0,1301.9 L2109.9,1328.4 L2097.2,1354.2 L2082.1,1379.0 L2064.7,1402.3 L2045.6,1423.7 L2024.8,1442.9 L2002.9,1459.5 L1980.2,1473.3 L1957.1,1483.9 L1933.9,1491.3 L1911.1,1495.3 L1889.1,1495.8 L1868.2,1492.9 L1848.8,1486.5 L1831.2,1476.8 L1815.7,1463.9 L1802.7,1448.2 L1792.2,1429.7 L1784.6,1408.9 L1779.8,1386.1 L1778.1,1361.8 L1779.4,1336.2 L1783.7,1309.9 L1791.0,1283.3 L1801.1,1256.8 L1813.8,1231.0 L1828.9,1206.2 L1846.3,1182.9 L1865.4,1161.5 L1886.2,1142.3 L1908.1,1125.7 L1930.8,1111.9 L1953.9,1101.3 L1977.1,1093.9 L1999.9,1089.9 L2021.9,1089.4 L2042.8,1092.3 L2062.2,1098.7 L2079.8,1108.4 L2095.3,1121.3 L2108.3,1137.0 L2118.8,1155.5 L2126.4,1176.3 L2131.2,1199.1 L2132.9,1223.4 L2131.6,1249.0 Z" fill="url(#gf)" stroke="#333" stroke-width="0.8"/>
<g transform="matrix(0.509 -0.126 -0.0624 0.5744 1955.5 1292.6)" stroke="#2a2a2a">
<circle cx="0" cy="0" r="262.3" stroke-width="3"/>
<circle cx="0" cy="0" r="253.5" stroke-width="2.6"/>
<circle cx="0" cy="0" r="219" stroke-width="3"/>
<circle cx="0" cy="0" r="210.2" stroke-width="2.6"/>
<circle cx="0" cy="0" r="171" stroke-width="3"/>
<circle cx="0" cy="0" r="258" stroke-width="6" stroke="#aaa"/><circle cx="0" cy="0" r="214.6" stroke-width="6" stroke="#aaa"/>
<circle cx="0" cy="0" r="262.3" stroke-width="3"/>
<circle cx="0" cy="0" r="253.5" stroke-width="2.6"/>
<circle cx="0" cy="0" r="219" stroke-width="3"/>
<circle cx="0" cy="0" r="210.2" stroke-width="2.6"/>
<path d="M160.7,10.5 A161,161 0 0 1 10.5,160.7 L10.5,131.6 A132,132 0 0 0 131.6,10.5 Z" stroke-width="3.2" fill="#cfcfcf"/>
<path d="M121.5,10.5 A122,122 0 0 1 10.5,121.5 L10.5,69.2 A70,70 0 0 0 69.2,10.5 Z" stroke-width="3.2" fill="#cfcfcf"/>
<path d="M58.8,10.5 A59.7,59.7 0 0 1 10.5,58.8 L10.5,10.5 Z" stroke-width="3.2" fill="#cfcfcf"/>
<path d="M160.7,-10.5 A161,161 0 0 0 10.5,-160.7 L10.5,-131.6 A132,132 0 0 1 131.6,-10.5 Z" stroke-width="3.2" fill="#cfcfcf"/>
<path d="M121.5,-10.5 A122,122 0 0 0 10.5,-121.5 L10.5,-69.2 A70,70 0 0 1 69.2,-10.5 Z" stroke-width="3.2" fill="#cfcfcf"/>
<path d="M58.8,-10.5 A59.7,59.7 0 0 0 10.5,-58.8 L10.5,-10.5 Z" stroke-width="3.2" fill="#cfcfcf"/>
<path d="M-160.7,10.5 A161,161 0 0 0 -10.5,160.7 L-10.5,131.6 A132,132 0 0 1 -131.6,10.5 Z" stroke-width="3.2" fill="#cfcfcf"/>
<path d="M-121.5,10.5 A122,122 0 0 0 -10.5,121.5 L-10.5,69.2 A70,70 0 0 1 -69.2,10.5 Z" stroke-width="3.2" fill="#cfcfcf"/>
<path d="M-58.8,10.5 A59.7,59.7 0 0 0 -10.5,58.8 L-10.5,10.5 Z" stroke-width="3.2" fill="#cfcfcf"/>
<path d="M-160.7,-10.5 A161,161 0 0 1 -10.5,-160.7 L-10.5,-131.6 A132,132 0 0 0 -131.6,-10.5 Z" stroke-width="3.2" fill="#cfcfcf"/>
<path d="M-121.5,-10.5 A122,122 0 0 1 -10.5,-121.5 L-10.5,-69.2 A70,70 0 0 0 -69.2,-10.5 Z" stroke-width="3.2" fill="#cfcfcf"/>
<path d="M-58.8,-10.5 A59.7,59.7 0 0 1 -10.5,-58.8 L-10.5,-10.5 Z" stroke-width="3.2" fill="#cfcfcf"/>
<circle cx="86.4" cy="35.8" r="17" stroke-width="3" fill="#d8d8d8"/>
<circle cx="86.4" cy="35.8" r="2.5" stroke-width="1.5" fill="#888"/>
<circle cx="35.8" cy="86.4" r="17" stroke-width="3" fill="#d8d8d8"/>
<circle cx="35.8" cy="86.4" r="2.5" stroke-width="1.5" fill="#888"/>
<circle cx="-35.8" cy="86.4" r="17" stroke-width="3" fill="#d8d8d8"/>
<circle cx="-35.8" cy="86.4" r="2.5" stroke-width="1.5" fill="#888"/>
<circle cx="-86.4" cy="35.8" r="17" stroke-width="3" fill="#d8d8d8"/>
<circle cx="-86.4" cy="35.8" r="2.5" stroke-width="1.5" fill="#888"/>
<circle cx="-86.4" cy="-35.8" r="17" stroke-width="3" fill="#d8d8d8"/>
<circle cx="-86.4" cy="-35.8" r="2.5" stroke-width="1.5" fill="#888"/>
<circle cx="-35.8" cy="-86.4" r="17" stroke-width="3" fill="#d8d8d8"/>
<circle cx="-35.8" cy="-86.4" r="2.5" stroke-width="1.5" fill="#888"/>
<circle cx="35.8" cy="-86.4" r="17" stroke-width="3" fill="#d8d8d8"/>
<circle cx="35.8" cy="-86.4" r="2.5" stroke-width="1.5" fill="#888"/>
<circle cx="86.4" cy="-35.8" r="17" stroke-width="3" fill="#d8d8d8"/>
<circle cx="86.4" cy="-35.8" r="2.5" stroke-width="1.5" fill="#888"/>
<circle cx="83.9" cy="-313.0" r="7.5" stroke-width="3" fill="#8a8a8a"/>
<circle cx="229.1" cy="-229.1" r="7.5" stroke-width="3" fill="#8a8a8a"/>
<circle cx="313.0" cy="-83.9" r="7.5" stroke-width="3" fill="#8a8a8a"/>
<circle cx="313.0" cy="83.9" r="7.5" stroke-width="3" fill="#8a8a8a"/>
<circle cx="229.1" cy="229.1" r="7.5" stroke-width="3" fill="#8a8a8a"/>
<circle cx="83.9" cy="313.0" r="7.5" stroke-width="3" fill="#8a8a8a"/>
<circle cx="-83.9" cy="313.0" r="7.5" stroke-width="3" fill="#8a8a8a"/>
<circle cx="-229.1" cy="229.1" r="7.5" stroke-width="3" fill="#8a8a8a"/>
<circle cx="-313.0" cy="83.9" r="7.5" stroke-width="3" fill="#8a8a8a"/>
<circle cx="-313.0" cy="-83.9" r="7.5" stroke-width="3" fill="#8a8a8a"/>
<circle cx="-229.1" cy="-229.1" r="7.5" stroke-width="3" fill="#8a8a8a"/>
<circle cx="-83.9" cy="-313.0" r="7.5" stroke-width="3" fill="#8a8a8a"/>
</g>
</g>
</svg></body></html>
